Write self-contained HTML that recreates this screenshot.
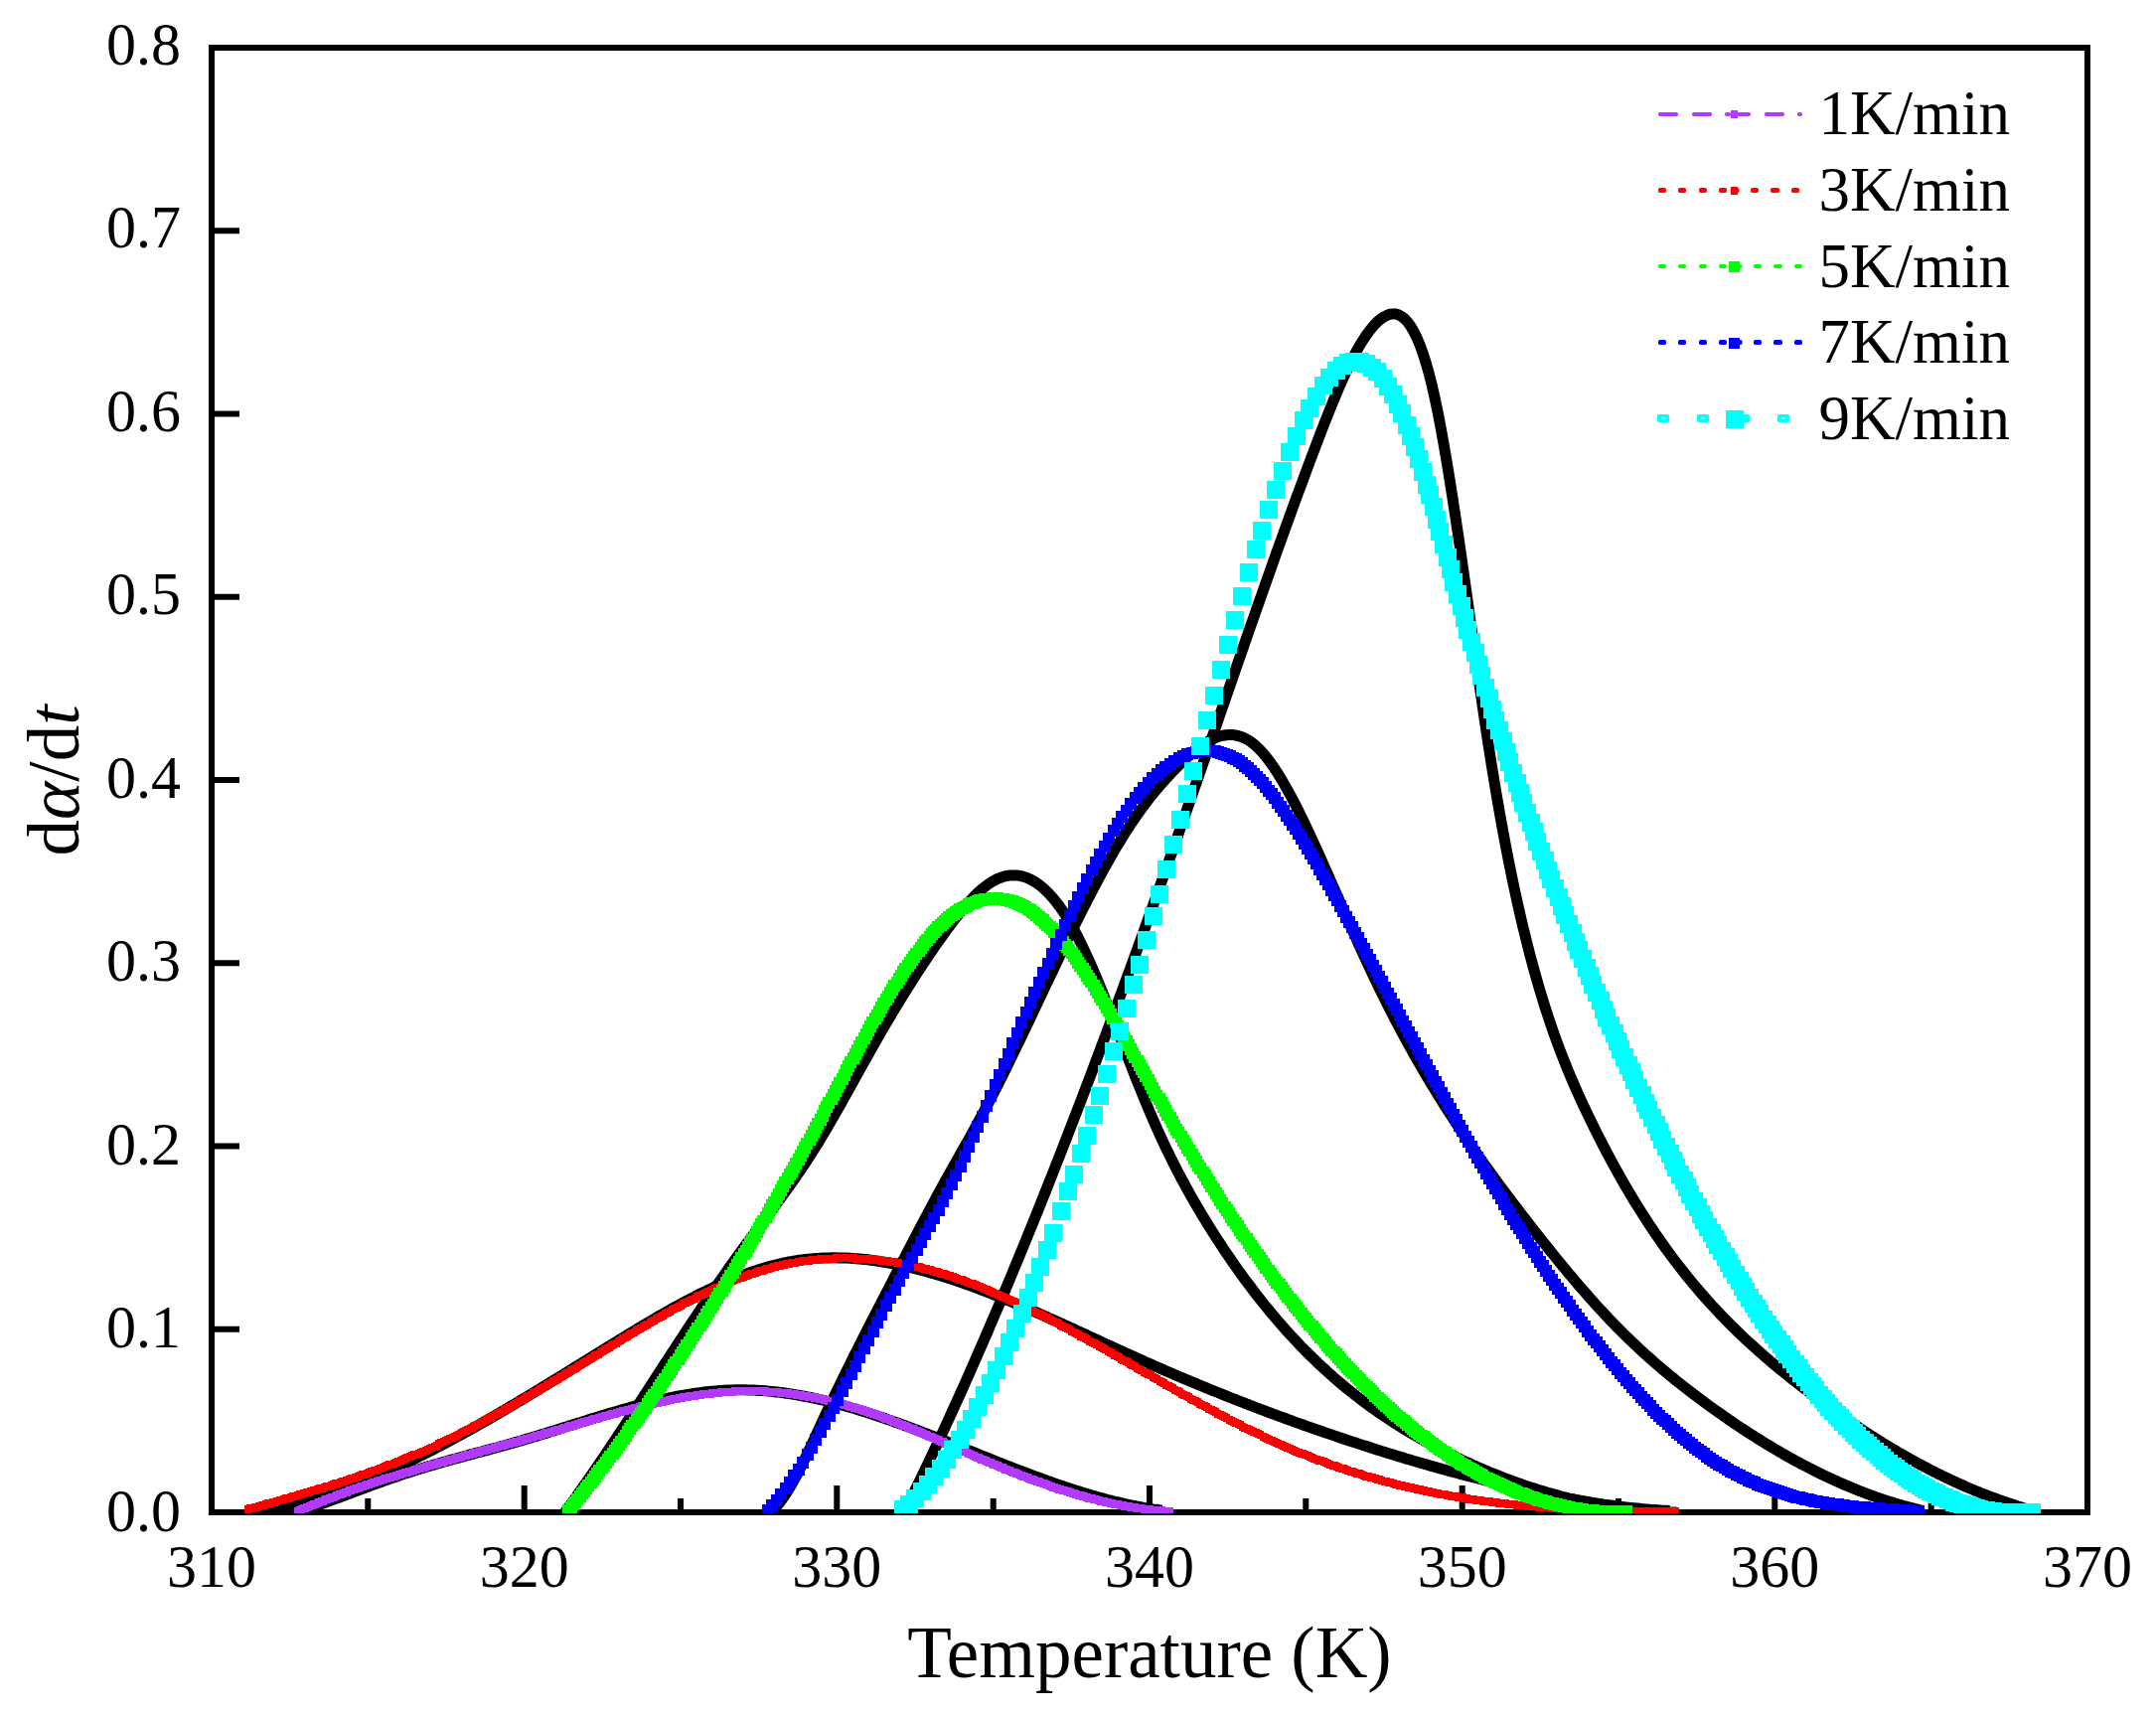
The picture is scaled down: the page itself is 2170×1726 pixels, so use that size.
<!DOCTYPE html>
<html><head><meta charset="utf-8"><title>da/dt vs Temperature</title>
<style>html,body{margin:0;padding:0;background:#fff}svg{display:block}</style></head>
<body>
<svg width="2170" height="1726" viewBox="0 0 2170 1726">
<rect width="2170" height="1726" fill="#fff"/>
<defs><clipPath id="cp"><rect x="213" y="48" width="1888" height="1475"/></clipPath></defs>
<rect x="213" y="48" width="1888" height="1474" fill="none" stroke="#000" stroke-width="6"/>
<path d="M527.7,1522v-27M842.3,1522v-27M1157.0,1522v-27M1471.7,1522v-27M1786.3,1522v-27M370.3,1522v-14M685.0,1522v-14M999.7,1522v-14M1314.3,1522v-14M1629.0,1522v-14M1943.7,1522v-14M213,1337.8h28M213,1153.5h28M213,969.2h28M213,785.0h28M213,600.8h28M213,416.5h28M213,232.2h28" stroke="#000" stroke-width="6" fill="none"/>
<g clip-path="url(#cp)">
<path d="M299.5,1522.0 L302.5,1521.0 L305.5,1520.0 L308.5,1518.9 L311.5,1517.9 L314.5,1516.8 L317.5,1515.8 L320.5,1514.7 L323.5,1513.6 L326.5,1512.5 L329.5,1511.4 L332.5,1510.3 L335.5,1509.2 L338.5,1508.1 L341.5,1507.0 L344.5,1505.9 L347.5,1504.8 L350.5,1503.6 L353.5,1502.5 L356.5,1501.4 L359.5,1500.3 L362.5,1499.2 L365.5,1498.1 L368.5,1496.9 L371.5,1495.8 L374.5,1494.7 L377.5,1493.6 L380.5,1492.5 L383.5,1491.5 L386.5,1490.4 L389.5,1489.3 L392.5,1488.3 L395.5,1487.2 L398.5,1486.2 L401.5,1485.2 L404.5,1484.1 L407.5,1483.1 L410.5,1482.2 L413.5,1481.2 L416.5,1480.2 L419.5,1479.3 L422.5,1478.4 L425.5,1477.4 L428.5,1476.5 L431.5,1475.6 L434.5,1474.8 L437.5,1473.9 L440.5,1473.0 L443.5,1472.2 L446.5,1471.3 L449.5,1470.5 L452.5,1469.6 L455.5,1468.8 L458.5,1468.0 L461.5,1467.2 L464.5,1466.4 L467.5,1465.5 L470.5,1464.7 L473.5,1463.9 L476.5,1463.1 L479.5,1462.3 L482.5,1461.5 L485.5,1460.7 L488.5,1459.9 L491.5,1459.1 L494.5,1458.3 L497.5,1457.5 L500.5,1456.7 L503.5,1455.8 L506.5,1455.0 L509.5,1454.2 L512.5,1453.3 L515.5,1452.5 L518.5,1451.6 L521.5,1450.8 L524.5,1449.9 L527.5,1449.0 L530.5,1448.1 L533.5,1447.2 L536.5,1446.3 L539.5,1445.4 L542.5,1444.5 L545.5,1443.6 L548.5,1442.7 L551.5,1441.7 L554.5,1440.8 L557.5,1439.9 L560.5,1438.9 L563.5,1438.0 L566.5,1437.0 L569.5,1436.1 L572.5,1435.1 L575.5,1434.2 L578.5,1433.2 L581.5,1432.3 L584.5,1431.4 L587.5,1430.4 L590.5,1429.5 L593.5,1428.5 L596.5,1427.6 L599.5,1426.7 L602.5,1425.8 L605.5,1424.8 L608.5,1423.9 L611.5,1423.0 L614.5,1422.1 L617.5,1421.3 L620.5,1420.4 L623.5,1419.5 L626.5,1418.6 L629.5,1417.8 L632.5,1417.0 L635.5,1416.1 L638.5,1415.3 L641.5,1414.5 L644.5,1413.7 L647.5,1412.9 L650.5,1412.2 L653.5,1411.4 L656.5,1410.7 L659.5,1410.0 L662.5,1409.3 L665.5,1408.6 L668.5,1408.0 L671.5,1407.3 L674.5,1406.7 L677.5,1406.1 L680.5,1405.5 L683.5,1404.9 L686.5,1404.4 L689.5,1403.9 L692.5,1403.3 L695.5,1402.9 L698.5,1402.4 L701.5,1402.0 L704.5,1401.6 L707.5,1401.2 L710.5,1400.8 L713.5,1400.5 L716.5,1400.2 L719.5,1399.9 L722.5,1399.7 L725.5,1399.5 L728.5,1399.3 L731.5,1399.1 L734.5,1399.0 L737.5,1398.9 L740.5,1398.8 L743.5,1398.8 L746.5,1398.8 L749.5,1398.8 L752.5,1398.9 L755.5,1399.0 L758.5,1399.1 L761.5,1399.2 L764.5,1399.4 L767.5,1399.6 L770.5,1399.8 L773.5,1400.1 L776.5,1400.4 L779.5,1400.7 L782.5,1401.0 L785.5,1401.4 L788.5,1401.8 L791.5,1402.2 L794.5,1402.6 L797.5,1403.1 L800.5,1403.6 L803.5,1404.1 L806.5,1404.7 L809.5,1405.2 L812.5,1405.8 L815.5,1406.4 L818.5,1407.0 L821.5,1407.7 L824.5,1408.3 L827.5,1409.0 L830.5,1409.7 L833.5,1410.5 L836.5,1411.2 L839.5,1412.0 L842.5,1412.8 L845.5,1413.6 L848.5,1414.4 L851.5,1415.2 L854.5,1416.1 L857.5,1417.0 L860.5,1417.8 L863.5,1418.8 L866.5,1419.7 L869.5,1420.6 L872.5,1421.5 L875.5,1422.5 L878.5,1423.5 L881.5,1424.5 L884.5,1425.5 L887.5,1426.5 L890.5,1427.5 L893.5,1428.6 L896.5,1429.6 L899.5,1430.7 L902.5,1431.7 L905.5,1432.8 L908.5,1433.9 L911.5,1435.0 L914.5,1436.1 L917.5,1437.2 L920.5,1438.4 L923.5,1439.5 L926.5,1440.6 L929.5,1441.8 L932.5,1442.9 L935.5,1444.1 L938.5,1445.2 L941.5,1446.4 L944.5,1447.6 L947.5,1448.8 L950.5,1449.9 L953.5,1451.1 L956.5,1452.3 L959.5,1453.5 L962.5,1454.7 L965.5,1455.9 L968.5,1457.1 L971.5,1458.3 L974.5,1459.5 L977.5,1460.7 L980.5,1461.9 L983.5,1463.1 L986.5,1464.3 L989.5,1465.5 L992.5,1466.7 L995.5,1467.9 L998.5,1469.1 L1001.5,1470.3 L1004.5,1471.5 L1007.5,1472.7 L1010.5,1473.8 L1013.5,1475.0 L1016.5,1476.2 L1019.5,1477.3 L1022.5,1478.5 L1025.5,1479.7 L1028.5,1480.8 L1031.5,1481.9 L1034.5,1483.1 L1037.5,1484.2 L1040.5,1485.3 L1043.5,1486.4 L1046.5,1487.5 L1049.5,1488.6 L1052.5,1489.7 L1055.5,1490.8 L1058.5,1491.8 L1061.5,1492.9 L1064.5,1493.9 L1067.5,1494.9 L1070.5,1496.0 L1073.5,1497.0 L1076.5,1498.0 L1079.5,1498.9 L1082.5,1499.9 L1085.5,1500.8 L1088.5,1501.8 L1091.5,1502.7 L1094.5,1503.6 L1097.5,1504.5 L1100.5,1505.4 L1103.5,1506.2 L1106.5,1507.1 L1109.5,1507.9 L1112.5,1508.7 L1115.5,1509.5 L1118.5,1510.2 L1121.5,1511.0 L1124.5,1511.7 L1127.5,1512.4 L1130.5,1513.1 L1133.5,1513.8 L1136.5,1514.5 L1139.5,1515.1 L1142.5,1515.7 L1145.5,1516.3 L1148.5,1516.8 L1151.5,1517.4 L1154.5,1517.9 L1157.5,1518.4 L1160.5,1518.9 L1163.5,1519.3 L1166.5,1519.7 L1169.5,1520.1" fill="none" stroke="#000" stroke-width="11" stroke-linejoin="round"/>
<path d="M249.5,1522.0 L252.5,1521.6 L255.5,1521.2 L258.5,1520.8 L261.5,1520.4 L264.5,1519.9 L267.5,1519.4 L270.5,1518.9 L273.5,1518.4 L276.5,1517.8 L279.5,1517.2 L282.5,1516.6 L285.5,1516.0 L288.5,1515.3 L291.5,1514.6 L294.5,1513.9 L297.5,1513.2 L300.5,1512.5 L303.5,1511.7 L306.5,1510.9 L309.5,1510.1 L312.5,1509.2 L315.5,1508.4 L318.5,1507.5 L321.5,1506.6 L324.5,1505.7 L327.5,1504.7 L330.5,1503.8 L333.5,1502.8 L336.5,1501.8 L339.5,1500.8 L342.5,1499.7 L345.5,1498.7 L348.5,1497.6 L351.5,1496.5 L354.5,1495.4 L357.5,1494.2 L360.5,1493.1 L363.5,1491.9 L366.5,1490.7 L369.5,1489.5 L372.5,1488.3 L375.5,1487.0 L378.5,1485.8 L381.5,1484.5 L384.5,1483.2 L387.5,1481.9 L390.5,1480.6 L393.5,1479.2 L396.5,1477.9 L399.5,1476.5 L402.5,1475.1 L405.5,1473.7 L408.5,1472.3 L411.5,1470.9 L414.5,1469.5 L417.5,1468.0 L420.5,1466.5 L423.5,1465.1 L426.5,1463.6 L429.5,1462.1 L432.5,1460.5 L435.5,1459.0 L438.5,1457.5 L441.5,1455.9 L444.5,1454.3 L447.5,1452.8 L450.5,1451.2 L453.5,1449.6 L456.5,1448.0 L459.5,1446.3 L462.5,1444.7 L465.5,1443.1 L468.5,1441.4 L471.5,1439.8 L474.5,1438.1 L477.5,1436.4 L480.5,1434.7 L483.5,1433.0 L486.5,1431.3 L489.5,1429.6 L492.5,1427.9 L495.5,1426.2 L498.5,1424.4 L501.5,1422.7 L504.5,1420.9 L507.5,1419.2 L510.5,1417.4 L513.5,1415.6 L516.5,1413.9 L519.5,1412.1 L522.5,1410.3 L525.5,1408.5 L528.5,1406.7 L531.5,1404.9 L534.5,1403.1 L537.5,1401.3 L540.5,1399.4 L543.5,1397.6 L546.5,1395.8 L549.5,1394.0 L552.5,1392.1 L555.5,1390.3 L558.5,1388.5 L561.5,1386.6 L564.5,1384.8 L567.5,1382.9 L570.5,1381.1 L573.5,1379.2 L576.5,1377.4 L579.5,1375.5 L582.5,1373.7 L585.5,1371.8 L588.5,1370.0 L591.5,1368.1 L594.5,1366.2 L597.5,1364.4 L600.5,1362.5 L603.5,1360.7 L606.5,1358.8 L609.5,1357.0 L612.5,1355.1 L615.5,1353.3 L618.5,1351.4 L621.5,1349.6 L624.5,1347.7 L627.5,1345.9 L630.5,1344.1 L633.5,1342.2 L636.5,1340.4 L639.5,1338.6 L642.5,1336.8 L645.5,1335.0 L648.5,1333.2 L651.5,1331.4 L654.5,1329.7 L657.5,1327.9 L660.5,1326.1 L663.5,1324.4 L666.5,1322.7 L669.5,1321.0 L672.5,1319.3 L675.5,1317.6 L678.5,1315.9 L681.5,1314.3 L684.5,1312.7 L687.5,1311.0 L690.5,1309.4 L693.5,1307.9 L696.5,1306.3 L699.5,1304.8 L702.5,1303.2 L705.5,1301.7 L708.5,1300.3 L711.5,1298.8 L714.5,1297.4 L717.5,1296.0 L720.5,1294.6 L723.5,1293.2 L726.5,1291.9 L729.5,1290.6 L732.5,1289.3 L735.5,1288.1 L738.5,1286.8 L741.5,1285.6 L744.5,1284.5 L747.5,1283.3 L750.5,1282.2 L753.5,1281.2 L756.5,1280.1 L759.5,1279.1 L762.5,1278.1 L765.5,1277.2 L768.5,1276.3 L771.5,1275.4 L774.5,1274.6 L777.5,1273.8 L780.5,1273.0 L783.5,1272.3 L786.5,1271.6 L789.5,1270.9 L792.5,1270.3 L795.5,1269.8 L798.5,1269.2 L801.5,1268.8 L804.5,1268.3 L807.5,1267.9 L810.5,1267.5 L813.5,1267.2 L816.5,1266.9 L819.5,1266.6 L822.5,1266.4 L825.5,1266.2 L828.5,1266.1 L831.5,1266.0 L834.5,1265.9 L837.5,1265.8 L840.5,1265.8 L843.5,1265.9 L846.5,1265.9 L849.5,1266.0 L852.5,1266.1 L855.5,1266.3 L858.5,1266.5 L861.5,1266.7 L864.5,1266.9 L867.5,1267.2 L870.5,1267.5 L873.5,1267.8 L876.5,1268.2 L879.5,1268.6 L882.5,1269.0 L885.5,1269.5 L888.5,1270.0 L891.5,1270.5 L894.5,1271.0 L897.5,1271.5 L900.5,1272.1 L903.5,1272.7 L906.5,1273.4 L909.5,1274.0 L912.5,1274.7 L915.5,1275.4 L918.5,1276.1 L921.5,1276.8 L924.5,1277.6 L927.5,1278.4 L930.5,1279.2 L933.5,1280.0 L936.5,1280.9 L939.5,1281.8 L942.5,1282.6 L945.5,1283.6 L948.5,1284.5 L951.5,1285.4 L954.5,1286.4 L957.5,1287.4 L960.5,1288.4 L963.5,1289.4 L966.5,1290.4 L969.5,1291.4 L972.5,1292.5 L975.5,1293.6 L978.5,1294.6 L981.5,1295.7 L984.5,1296.9 L987.5,1298.0 L990.5,1299.1 L993.5,1300.3 L996.5,1301.4 L999.5,1302.6 L1002.5,1303.8 L1005.5,1305.0 L1008.5,1306.2 L1011.5,1307.4 L1014.5,1308.7 L1017.5,1309.9 L1020.5,1311.1 L1023.5,1312.4 L1026.5,1313.7 L1029.5,1314.9 L1032.5,1316.2 L1035.5,1317.5 L1038.5,1318.8 L1041.5,1320.1 L1044.5,1321.4 L1047.5,1322.7 L1050.5,1324.1 L1053.5,1325.4 L1056.5,1326.7 L1059.5,1328.1 L1062.5,1329.4 L1065.5,1330.8 L1068.5,1332.1 L1071.5,1333.5 L1074.5,1334.9 L1077.5,1336.2 L1080.5,1337.6 L1083.5,1339.0 L1086.5,1340.3 L1089.5,1341.7 L1092.5,1343.1 L1095.5,1344.5 L1098.5,1345.9 L1101.5,1347.2 L1104.5,1348.6 L1107.5,1350.0 L1110.5,1351.4 L1113.5,1352.8 L1116.5,1354.1 L1119.5,1355.5 L1122.5,1356.9 L1125.5,1358.3 L1128.5,1359.6 L1131.5,1361.0 L1134.5,1362.4 L1137.5,1363.7 L1140.5,1365.1 L1143.5,1366.4 L1146.5,1367.8 L1149.5,1369.1 L1152.5,1370.5 L1155.5,1371.8 L1158.5,1373.1 L1161.5,1374.5 L1164.5,1375.8 L1167.5,1377.1 L1170.5,1378.4 L1173.5,1379.7 L1176.5,1381.0 L1179.5,1382.3 L1182.5,1383.6 L1185.5,1384.9 L1188.5,1386.1 L1191.5,1387.4 L1194.5,1388.7 L1197.5,1389.9 L1200.5,1391.2 L1203.5,1392.4 L1206.5,1393.7 L1209.5,1394.9 L1212.5,1396.1 L1215.5,1397.4 L1218.5,1398.6 L1221.5,1399.8 L1224.5,1401.0 L1227.5,1402.2 L1230.5,1403.4 L1233.5,1404.6 L1236.5,1405.8 L1239.5,1407.0 L1242.5,1408.2 L1245.5,1409.4 L1248.5,1410.5 L1251.5,1411.7 L1254.5,1412.9 L1257.5,1414.0 L1260.5,1415.2 L1263.5,1416.3 L1266.5,1417.5 L1269.5,1418.6 L1272.5,1419.7 L1275.5,1420.9 L1278.5,1422.0 L1281.5,1423.1 L1284.5,1424.2 L1287.5,1425.3 L1290.5,1426.4 L1293.5,1427.5 L1296.5,1428.6 L1299.5,1429.7 L1302.5,1430.8 L1305.5,1431.9 L1308.5,1432.9 L1311.5,1434.0 L1314.5,1435.1 L1317.5,1436.1 L1320.5,1437.2 L1323.5,1438.2 L1326.5,1439.3 L1329.5,1440.3 L1332.5,1441.3 L1335.5,1442.4 L1338.5,1443.4 L1341.5,1444.4 L1344.5,1445.4 L1347.5,1446.5 L1350.5,1447.5 L1353.5,1448.5 L1356.5,1449.5 L1359.5,1450.5 L1362.5,1451.4 L1365.5,1452.4 L1368.5,1453.4 L1371.5,1454.4 L1374.5,1455.3 L1377.5,1456.3 L1380.5,1457.3 L1383.5,1458.2 L1386.5,1459.2 L1389.5,1460.1 L1392.5,1461.1 L1395.5,1462.0 L1398.5,1462.9 L1401.5,1463.8 L1404.5,1464.8 L1407.5,1465.7 L1410.5,1466.6 L1413.5,1467.5 L1416.5,1468.4 L1419.5,1469.3 L1422.5,1470.2 L1425.5,1471.0 L1428.5,1471.9 L1431.5,1472.8 L1434.5,1473.6 L1437.5,1474.5 L1440.5,1475.4 L1443.5,1476.2 L1446.5,1477.1 L1449.5,1477.9 L1452.5,1478.7 L1455.5,1479.6 L1458.5,1480.4 L1461.5,1481.2 L1464.5,1482.0 L1467.5,1482.8 L1470.5,1483.6 L1473.5,1484.4 L1476.5,1485.2 L1479.5,1486.0 L1482.5,1486.7 L1485.5,1487.5 L1488.5,1488.3 L1491.5,1489.0 L1494.5,1489.8 L1497.5,1490.5 L1500.5,1491.3 L1503.5,1492.0 L1506.5,1492.8 L1509.5,1493.5 L1512.5,1494.2 L1515.5,1494.9 L1518.5,1495.6 L1521.5,1496.3 L1524.5,1497.0 L1527.5,1497.7 L1530.5,1498.4 L1533.5,1499.1 L1536.5,1499.7 L1539.5,1500.4 L1542.5,1501.0 L1545.5,1501.7 L1548.5,1502.3 L1551.5,1502.9 L1554.5,1503.6 L1557.5,1504.2 L1560.5,1504.8 L1563.5,1505.4 L1566.5,1506.0 L1569.5,1506.5 L1572.5,1507.1 L1575.5,1507.7 L1578.5,1508.2 L1581.5,1508.8 L1584.5,1509.3 L1587.5,1509.8 L1590.5,1510.3 L1593.5,1510.8 L1596.5,1511.3 L1599.5,1511.8 L1602.5,1512.3 L1605.5,1512.7 L1608.5,1513.2 L1611.5,1513.6 L1614.5,1514.1 L1617.5,1514.5 L1620.5,1514.9 L1623.5,1515.3 L1626.5,1515.7 L1629.5,1516.0 L1632.5,1516.4 L1635.5,1516.8 L1638.5,1517.1 L1641.5,1517.4 L1644.5,1517.7 L1647.5,1518.0 L1650.5,1518.3 L1653.5,1518.6 L1656.5,1518.9 L1659.5,1519.1 L1662.5,1519.4 L1665.5,1519.6 L1668.5,1519.8 L1671.5,1520.0 L1674.5,1520.2 L1677.5,1520.3 L1680.5,1520.5" fill="none" stroke="#000" stroke-width="11" stroke-linejoin="round"/>
<path d="M568.5,1522.0 L571.5,1517.9 L574.5,1513.8 L577.5,1509.6 L580.5,1505.5 L583.5,1501.2 L586.5,1497.0 L589.5,1492.7 L592.5,1488.4 L595.5,1484.1 L598.5,1479.7 L601.5,1475.3 L604.5,1470.9 L607.5,1466.5 L610.5,1462.0 L613.5,1457.6 L616.5,1453.1 L619.5,1448.6 L622.5,1444.0 L625.5,1439.5 L628.5,1435.0 L631.5,1430.4 L634.5,1425.8 L637.5,1421.2 L640.5,1416.6 L643.5,1412.0 L646.5,1407.4 L649.5,1402.8 L652.5,1398.2 L655.5,1393.6 L658.5,1388.9 L661.5,1384.3 L664.5,1379.7 L667.5,1375.1 L670.5,1370.5 L673.5,1365.9 L676.5,1361.3 L679.5,1356.7 L682.5,1352.1 L685.5,1347.5 L688.5,1342.9 L691.5,1338.4 L694.5,1333.8 L697.5,1329.3 L700.5,1324.8 L703.5,1320.3 L706.5,1315.8 L709.5,1311.3 L712.5,1306.9 L715.5,1302.5 L718.5,1298.1 L721.5,1293.7 L724.5,1289.4 L727.5,1285.1 L730.5,1280.8 L733.5,1276.5 L736.5,1272.3 L739.5,1268.1 L742.5,1263.9 L745.5,1259.8 L748.5,1255.7 L751.5,1251.6 L754.5,1247.6 L757.5,1243.6 L760.5,1239.6 L763.5,1235.6 L766.5,1231.6 L769.5,1227.6 L772.5,1223.6 L775.5,1219.6 L778.5,1215.6 L781.5,1211.5 L784.5,1207.4 L787.5,1203.3 L790.5,1199.2 L793.5,1195.0 L796.5,1190.8 L799.5,1186.5 L802.5,1182.2 L805.5,1177.8 L808.5,1173.4 L811.5,1168.9 L814.5,1164.3 L817.5,1159.6 L820.5,1154.8 L823.5,1150.0 L826.5,1145.0 L829.5,1140.0 L832.5,1134.9 L835.5,1129.8 L838.5,1124.6 L841.5,1119.3 L844.5,1114.0 L847.5,1108.7 L850.5,1103.3 L853.5,1097.9 L856.5,1092.5 L859.5,1087.1 L862.5,1081.7 L865.5,1076.3 L868.5,1070.9 L871.5,1065.5 L874.5,1060.2 L877.5,1054.9 L880.5,1049.6 L883.5,1044.3 L886.5,1039.1 L889.5,1034.0 L892.5,1028.8 L895.5,1023.8 L898.5,1018.7 L901.5,1013.7 L904.5,1008.8 L907.5,1003.9 L910.5,999.1 L913.5,994.3 L916.5,989.5 L919.5,984.8 L922.5,980.1 L925.5,975.5 L928.5,971.0 L931.5,966.4 L934.5,962.0 L937.5,957.6 L940.5,953.2 L943.5,948.9 L946.5,944.7 L949.5,940.5 L952.5,936.3 L955.5,932.2 L958.5,928.2 L961.5,924.3 L964.5,920.5 L967.5,916.8 L970.5,913.2 L973.5,909.7 L976.5,906.4 L979.5,903.2 L982.5,900.2 L985.5,897.3 L988.5,894.7 L991.5,892.3 L994.5,890.0 L997.5,888.0 L1000.5,886.3 L1003.5,884.7 L1006.5,883.5 L1009.5,882.4 L1012.5,881.7 L1015.5,881.1 L1018.5,880.9 L1021.5,880.9 L1024.5,881.1 L1027.5,881.6 L1030.5,882.4 L1033.5,883.4 L1036.5,884.7 L1039.5,886.3 L1042.5,888.1 L1045.5,890.2 L1048.5,892.5 L1051.5,895.2 L1054.5,898.1 L1057.5,901.3 L1060.5,904.7 L1063.5,908.4 L1066.5,912.4 L1069.5,916.7 L1072.5,921.3 L1075.5,926.1 L1078.5,931.3 L1081.5,936.7 L1084.5,942.4 L1087.5,948.4 L1090.5,954.6 L1093.5,961.0 L1096.5,967.6 L1099.5,974.5 L1102.5,981.5 L1105.5,988.6 L1108.5,995.9 L1111.5,1003.3 L1114.5,1010.9 L1117.5,1018.5 L1120.5,1026.1 L1123.5,1033.9 L1126.5,1041.6 L1129.5,1049.4 L1132.5,1057.2 L1135.5,1065.0 L1138.5,1072.7 L1141.5,1080.4 L1144.5,1088.0 L1147.5,1095.5 L1150.5,1102.9 L1153.5,1110.2 L1156.5,1117.4 L1159.5,1124.4 L1162.5,1131.3 L1165.5,1138.0 L1168.5,1144.6 L1171.5,1151.0 L1174.5,1157.3 L1177.5,1163.4 L1180.5,1169.5 L1183.5,1175.4 L1186.5,1181.2 L1189.5,1186.9 L1192.5,1192.4 L1195.5,1197.9 L1198.5,1203.3 L1201.5,1208.5 L1204.5,1213.7 L1207.5,1218.8 L1210.5,1223.8 L1213.5,1228.7 L1216.5,1233.6 L1219.5,1238.4 L1222.5,1243.1 L1225.5,1247.7 L1228.5,1252.3 L1231.5,1256.9 L1234.5,1261.3 L1237.5,1265.7 L1240.5,1270.1 L1243.5,1274.4 L1246.5,1278.6 L1249.5,1282.8 L1252.5,1286.9 L1255.5,1290.9 L1258.5,1294.9 L1261.5,1298.9 L1264.5,1302.8 L1267.5,1306.6 L1270.5,1310.4 L1273.5,1314.1 L1276.5,1317.8 L1279.5,1321.4 L1282.5,1325.0 L1285.5,1328.5 L1288.5,1332.0 L1291.5,1335.4 L1294.5,1338.8 L1297.5,1342.1 L1300.5,1345.4 L1303.5,1348.6 L1306.5,1351.7 L1309.5,1354.9 L1312.5,1358.0 L1315.5,1361.0 L1318.5,1364.0 L1321.5,1366.9 L1324.5,1369.8 L1327.5,1372.7 L1330.5,1375.5 L1333.5,1378.2 L1336.5,1381.0 L1339.5,1383.7 L1342.5,1386.3 L1345.5,1388.9 L1348.5,1391.5 L1351.5,1394.0 L1354.5,1396.5 L1357.5,1398.9 L1360.5,1401.3 L1363.5,1403.7 L1366.5,1406.0 L1369.5,1408.3 L1372.5,1410.6 L1375.5,1412.8 L1378.5,1415.0 L1381.5,1417.2 L1384.5,1419.3 L1387.5,1421.4 L1390.5,1423.5 L1393.5,1425.5 L1396.5,1427.5 L1399.5,1429.5 L1402.5,1431.5 L1405.5,1433.4 L1408.5,1435.3 L1411.5,1437.1 L1414.5,1439.0 L1417.5,1440.8 L1420.5,1442.5 L1423.5,1444.3 L1426.5,1446.0 L1429.5,1447.7 L1432.5,1449.4 L1435.5,1451.1 L1438.5,1452.7 L1441.5,1454.3 L1444.5,1455.9 L1447.5,1457.5 L1450.5,1459.0 L1453.5,1460.6 L1456.5,1462.1 L1459.5,1463.6 L1462.5,1465.0 L1465.5,1466.5 L1468.5,1467.9 L1471.5,1469.4 L1474.5,1470.8 L1477.5,1472.1 L1480.5,1473.5 L1483.5,1474.9 L1486.5,1476.2 L1489.5,1477.5 L1492.5,1478.8 L1495.5,1480.0 L1498.5,1481.3 L1501.5,1482.5 L1504.5,1483.7 L1507.5,1484.9 L1510.5,1486.1 L1513.5,1487.3 L1516.5,1488.4 L1519.5,1489.5 L1522.5,1490.6 L1525.5,1491.7 L1528.5,1492.8 L1531.5,1493.8 L1534.5,1494.9 L1537.5,1495.9 L1540.5,1496.9 L1543.5,1497.8 L1546.5,1498.8 L1549.5,1499.7 L1552.5,1500.6 L1555.5,1501.5 L1558.5,1502.4 L1561.5,1503.2 L1564.5,1504.1 L1567.5,1504.9 L1570.5,1505.7 L1573.5,1506.5 L1576.5,1507.2 L1579.5,1508.0 L1582.5,1508.7 L1585.5,1509.4 L1588.5,1510.1 L1591.5,1510.8 L1594.5,1511.4 L1597.5,1512.0 L1600.5,1512.7 L1603.5,1513.2 L1606.5,1513.8 L1609.5,1514.4 L1612.5,1514.9 L1615.5,1515.4 L1618.5,1515.9 L1621.5,1516.4 L1624.5,1516.8 L1627.5,1517.3 L1630.5,1517.7 L1633.5,1518.1 L1636.5,1518.5 L1639.5,1518.8 L1642.5,1519.2 L1645.5,1519.5 L1648.5,1519.8 L1651.5,1520.1 L1654.5,1520.3 L1657.5,1520.6 L1660.5,1520.8 L1663.5,1521.0 L1666.5,1521.2 L1669.5,1521.4 L1672.5,1521.5 L1675.5,1521.7 L1678.5,1521.8 L1681.5,1521.9 L1684.5,1521.9 L1687.5,1522.0" fill="none" stroke="#000" stroke-width="11" stroke-linejoin="round"/>
<path d="M775.0,1522.0 L778.0,1519.5 L781.0,1516.5 L784.0,1513.1 L787.0,1509.2 L790.0,1504.9 L793.0,1500.2 L796.0,1495.2 L799.0,1489.9 L802.0,1484.4 L805.0,1478.6 L808.0,1472.6 L811.0,1466.4 L814.0,1460.1 L817.0,1453.8 L820.0,1447.3 L823.0,1440.8 L826.0,1434.3 L829.0,1427.8 L832.0,1421.4 L835.0,1415.0 L838.0,1408.7 L841.0,1402.5 L844.0,1396.3 L847.0,1390.1 L850.0,1384.0 L853.0,1377.9 L856.0,1371.9 L859.0,1365.8 L862.0,1359.9 L865.0,1353.9 L868.0,1348.0 L871.0,1342.1 L874.0,1336.2 L877.0,1330.4 L880.0,1324.5 L883.0,1318.7 L886.0,1312.9 L889.0,1307.1 L892.0,1301.3 L895.0,1295.5 L898.0,1289.7 L901.0,1283.9 L904.0,1278.1 L907.0,1272.3 L910.0,1266.5 L913.0,1260.7 L916.0,1255.0 L919.0,1249.2 L922.0,1243.5 L925.0,1237.7 L928.0,1232.0 L931.0,1226.4 L934.0,1220.7 L937.0,1215.1 L940.0,1209.5 L943.0,1203.9 L946.0,1198.4 L949.0,1193.0 L952.0,1187.5 L955.0,1182.1 L958.0,1176.8 L961.0,1171.4 L964.0,1166.1 L967.0,1160.8 L970.0,1155.5 L973.0,1150.2 L976.0,1144.8 L979.0,1139.4 L982.0,1134.0 L985.0,1128.5 L988.0,1123.0 L991.0,1117.4 L994.0,1111.7 L997.0,1106.0 L1000.0,1100.2 L1003.0,1094.3 L1006.0,1088.3 L1009.0,1082.4 L1012.0,1076.3 L1015.0,1070.2 L1018.0,1064.1 L1021.0,1057.9 L1024.0,1051.7 L1027.0,1045.5 L1030.0,1039.2 L1033.0,1033.0 L1036.0,1026.7 L1039.0,1020.3 L1042.0,1014.0 L1045.0,1007.7 L1048.0,1001.4 L1051.0,995.0 L1054.0,988.7 L1057.0,982.4 L1060.0,976.1 L1063.0,969.8 L1066.0,963.5 L1069.0,957.3 L1072.0,951.1 L1075.0,944.9 L1078.0,938.7 L1081.0,932.6 L1084.0,926.6 L1087.0,920.6 L1090.0,914.6 L1093.0,908.7 L1096.0,902.9 L1099.0,897.1 L1102.0,891.4 L1105.0,885.7 L1108.0,880.2 L1111.0,874.7 L1114.0,869.3 L1117.0,864.0 L1120.0,858.8 L1123.0,853.6 L1126.0,848.6 L1129.0,843.7 L1132.0,838.9 L1135.0,834.2 L1138.0,829.6 L1141.0,825.1 L1144.0,820.8 L1147.0,816.5 L1150.0,812.4 L1153.0,808.4 L1156.0,804.5 L1159.0,800.7 L1162.0,797.1 L1165.0,793.5 L1168.0,790.0 L1171.0,786.6 L1174.0,783.2 L1177.0,780.0 L1180.0,776.8 L1183.0,773.7 L1186.0,770.6 L1189.0,767.7 L1192.0,764.8 L1195.0,762.0 L1198.0,759.3 L1201.0,756.7 L1204.0,754.3 L1207.0,752.0 L1210.0,749.8 L1213.0,747.9 L1216.0,746.1 L1219.0,744.5 L1222.0,743.1 L1225.0,741.9 L1228.0,740.9 L1231.0,740.2 L1234.0,739.7 L1237.0,739.5 L1240.0,739.5 L1243.0,739.9 L1246.0,740.5 L1249.0,741.4 L1252.0,742.6 L1255.0,744.1 L1258.0,745.9 L1261.0,748.1 L1264.0,750.7 L1267.0,753.5 L1270.0,756.7 L1273.0,760.1 L1276.0,763.9 L1279.0,767.9 L1282.0,772.2 L1285.0,776.7 L1288.0,781.5 L1291.0,786.5 L1294.0,791.7 L1297.0,797.1 L1300.0,802.7 L1303.0,808.4 L1306.0,814.3 L1309.0,820.4 L1312.0,826.5 L1315.0,832.8 L1318.0,839.2 L1321.0,845.7 L1324.0,852.3 L1327.0,858.9 L1330.0,865.6 L1333.0,872.4 L1336.0,879.1 L1339.0,885.9 L1342.0,892.7 L1345.0,899.5 L1348.0,906.3 L1351.0,913.1 L1354.0,919.9 L1357.0,926.6 L1360.0,933.4 L1363.0,940.1 L1366.0,946.8 L1369.0,953.4 L1372.0,959.9 L1375.0,966.5 L1378.0,972.9 L1381.0,979.3 L1384.0,985.6 L1387.0,991.9 L1390.0,998.0 L1393.0,1004.1 L1396.0,1010.1 L1399.0,1016.0 L1402.0,1021.8 L1405.0,1027.6 L1408.0,1033.3 L1411.0,1038.9 L1414.0,1044.5 L1417.0,1050.0 L1420.0,1055.4 L1423.0,1060.8 L1426.0,1066.1 L1429.0,1071.3 L1432.0,1076.4 L1435.0,1081.6 L1438.0,1086.6 L1441.0,1091.6 L1444.0,1096.5 L1447.0,1101.4 L1450.0,1106.2 L1453.0,1111.0 L1456.0,1115.7 L1459.0,1120.4 L1462.0,1125.0 L1465.0,1129.6 L1468.0,1134.1 L1471.0,1138.6 L1474.0,1143.1 L1477.0,1147.5 L1480.0,1151.9 L1483.0,1156.2 L1486.0,1160.5 L1489.0,1164.8 L1492.0,1169.0 L1495.0,1173.2 L1498.0,1177.3 L1501.0,1181.5 L1504.0,1185.6 L1507.0,1189.7 L1510.0,1193.7 L1513.0,1197.7 L1516.0,1201.7 L1519.0,1205.7 L1522.0,1209.7 L1525.0,1213.6 L1528.0,1217.6 L1531.0,1221.5 L1534.0,1225.4 L1537.0,1229.3 L1540.0,1233.1 L1543.0,1237.0 L1546.0,1240.8 L1549.0,1244.7 L1552.0,1248.5 L1555.0,1252.2 L1558.0,1256.0 L1561.0,1259.7 L1564.0,1263.4 L1567.0,1267.1 L1570.0,1270.8 L1573.0,1274.5 L1576.0,1278.1 L1579.0,1281.7 L1582.0,1285.2 L1585.0,1288.8 L1588.0,1292.3 L1591.0,1295.8 L1594.0,1299.2 L1597.0,1302.7 L1600.0,1306.1 L1603.0,1309.4 L1606.0,1312.8 L1609.0,1316.1 L1612.0,1319.3 L1615.0,1322.5 L1618.0,1325.7 L1621.0,1328.9 L1624.0,1332.0 L1627.0,1335.1 L1630.0,1338.1 L1633.0,1341.1 L1636.0,1344.1 L1639.0,1347.0 L1642.0,1349.9 L1645.0,1352.8 L1648.0,1355.6 L1651.0,1358.4 L1654.0,1361.1 L1657.0,1363.9 L1660.0,1366.5 L1663.0,1369.2 L1666.0,1371.8 L1669.0,1374.4 L1672.0,1377.0 L1675.0,1379.5 L1678.0,1382.0 L1681.0,1384.5 L1684.0,1386.9 L1687.0,1389.4 L1690.0,1391.8 L1693.0,1394.1 L1696.0,1396.5 L1699.0,1398.8 L1702.0,1401.1 L1705.0,1403.4 L1708.0,1405.7 L1711.0,1407.9 L1714.0,1410.2 L1717.0,1412.4 L1720.0,1414.6 L1723.0,1416.7 L1726.0,1418.9 L1729.0,1421.0 L1732.0,1423.1 L1735.0,1425.2 L1738.0,1427.3 L1741.0,1429.4 L1744.0,1431.4 L1747.0,1433.5 L1750.0,1435.5 L1753.0,1437.5 L1756.0,1439.4 L1759.0,1441.4 L1762.0,1443.3 L1765.0,1445.2 L1768.0,1447.1 L1771.0,1449.0 L1774.0,1450.9 L1777.0,1452.7 L1780.0,1454.5 L1783.0,1456.3 L1786.0,1458.1 L1789.0,1459.9 L1792.0,1461.6 L1795.0,1463.4 L1798.0,1465.1 L1801.0,1466.8 L1804.0,1468.4 L1807.0,1470.1 L1810.0,1471.7 L1813.0,1473.3 L1816.0,1474.9 L1819.0,1476.4 L1822.0,1478.0 L1825.0,1479.5 L1828.0,1481.0 L1831.0,1482.5 L1834.0,1484.0 L1837.0,1485.4 L1840.0,1486.8 L1843.0,1488.2 L1846.0,1489.6 L1849.0,1490.9 L1852.0,1492.3 L1855.0,1493.6 L1858.0,1494.9 L1861.0,1496.1 L1864.0,1497.4 L1867.0,1498.6 L1870.0,1499.8 L1873.0,1501.0 L1876.0,1502.2 L1879.0,1503.3 L1882.0,1504.4 L1885.0,1505.5 L1888.0,1506.6 L1891.0,1507.6 L1894.0,1508.6 L1897.0,1509.6 L1900.0,1510.6 L1903.0,1511.6 L1906.0,1512.5 L1909.0,1513.4 L1912.0,1514.3 L1915.0,1515.2 L1918.0,1516.0 L1921.0,1516.8 L1924.0,1517.6 L1927.0,1518.4 L1930.0,1519.1 L1933.0,1519.9 L1936.0,1520.5" fill="none" stroke="#000" stroke-width="11" stroke-linejoin="round"/>
<path d="M910.0,1522.0 L913.0,1516.0 L916.0,1509.9 L919.0,1503.9 L922.0,1497.7 L925.0,1491.6 L928.0,1485.4 L931.0,1479.1 L934.0,1472.9 L937.0,1466.6 L940.0,1460.2 L943.0,1453.8 L946.0,1447.4 L949.0,1441.0 L952.0,1434.5 L955.0,1428.0 L958.0,1421.4 L961.0,1414.8 L964.0,1408.2 L967.0,1401.6 L970.0,1394.9 L973.0,1388.1 L976.0,1381.4 L979.0,1374.6 L982.0,1367.8 L985.0,1360.9 L988.0,1354.0 L991.0,1347.1 L994.0,1340.2 L997.0,1333.2 L1000.0,1326.2 L1003.0,1319.1 L1006.0,1312.1 L1009.0,1305.0 L1012.0,1297.8 L1015.0,1290.7 L1018.0,1283.5 L1021.0,1276.2 L1024.0,1269.0 L1027.0,1261.7 L1030.0,1254.4 L1033.0,1247.0 L1036.0,1239.7 L1039.0,1232.3 L1042.0,1224.9 L1045.0,1217.4 L1048.0,1209.9 L1051.0,1202.4 L1054.0,1194.9 L1057.0,1187.3 L1060.0,1179.7 L1063.0,1172.1 L1066.0,1164.4 L1069.0,1156.8 L1072.0,1149.1 L1075.0,1141.3 L1078.0,1133.6 L1081.0,1125.8 L1084.0,1118.0 L1087.0,1110.2 L1090.0,1102.4 L1093.0,1094.5 L1096.0,1086.6 L1099.0,1078.7 L1102.0,1070.7 L1105.0,1062.8 L1108.0,1054.8 L1111.0,1046.7 L1114.0,1038.7 L1117.0,1030.6 L1120.0,1022.6 L1123.0,1014.5 L1126.0,1006.3 L1129.0,998.2 L1132.0,990.0 L1135.0,981.8 L1138.0,973.6 L1141.0,965.4 L1144.0,957.1 L1147.0,948.9 L1150.0,940.6 L1153.0,932.2 L1156.0,923.9 L1159.0,915.6 L1162.0,907.2 L1165.0,898.8 L1168.0,890.4 L1171.0,882.0 L1174.0,873.5 L1177.0,865.0 L1180.0,856.6 L1183.0,848.1 L1186.0,839.5 L1189.0,831.0 L1192.0,822.4 L1195.0,813.9 L1198.0,805.3 L1201.0,796.7 L1204.0,788.1 L1207.0,779.4 L1210.0,770.8 L1213.0,762.2 L1216.0,753.5 L1219.0,744.8 L1222.0,736.2 L1225.0,727.5 L1228.0,718.8 L1231.0,710.2 L1234.0,701.5 L1237.0,692.8 L1240.0,684.1 L1243.0,675.5 L1246.0,666.8 L1249.0,658.2 L1252.0,649.6 L1255.0,640.9 L1258.0,632.3 L1261.0,623.7 L1264.0,615.2 L1267.0,606.6 L1270.0,598.1 L1273.0,589.6 L1276.0,581.1 L1279.0,572.6 L1282.0,564.1 L1285.0,555.7 L1288.0,547.3 L1291.0,539.0 L1294.0,530.7 L1297.0,522.4 L1300.0,514.1 L1303.0,505.9 L1306.0,497.7 L1309.0,489.6 L1312.0,481.5 L1315.0,473.4 L1318.0,465.4 L1321.0,457.4 L1324.0,449.5 L1327.0,441.6 L1330.0,433.8 L1333.0,426.1 L1336.0,418.5 L1339.0,411.0 L1342.0,403.6 L1345.0,396.4 L1348.0,389.4 L1351.0,382.6 L1354.0,376.0 L1357.0,369.6 L1360.0,363.5 L1363.0,357.7 L1366.0,352.2 L1369.0,346.9 L1372.0,342.1 L1375.0,337.5 L1378.0,333.4 L1381.0,329.6 L1384.0,326.2 L1387.0,323.3 L1390.0,320.8 L1393.0,318.8 L1396.0,317.3 L1399.0,316.3 L1402.0,315.9 L1405.0,316.1 L1408.0,317.0 L1411.0,318.7 L1414.0,321.1 L1417.0,324.4 L1420.0,328.6 L1423.0,333.7 L1426.0,339.8 L1429.0,346.9 L1432.0,355.1 L1435.0,364.5 L1438.0,375.0 L1441.0,386.8 L1444.0,399.9 L1447.0,414.2 L1450.0,429.7 L1453.0,446.3 L1456.0,463.8 L1459.0,482.1 L1462.0,501.2 L1465.0,520.9 L1468.0,541.1 L1471.0,561.7 L1474.0,582.7 L1477.0,603.9 L1480.0,625.2 L1483.0,646.5 L1486.0,667.6 L1489.0,688.6 L1492.0,709.3 L1495.0,729.5 L1498.0,749.2 L1501.0,768.3 L1504.0,786.7 L1507.0,804.5 L1510.0,821.6 L1513.0,838.1 L1516.0,854.0 L1519.0,869.2 L1522.0,884.0 L1525.0,898.1 L1528.0,911.8 L1531.0,924.9 L1534.0,937.5 L1537.0,949.6 L1540.0,961.3 L1543.0,972.5 L1546.0,983.3 L1549.0,993.7 L1552.0,1003.7 L1555.0,1013.4 L1558.0,1022.6 L1561.0,1031.6 L1564.0,1040.2 L1567.0,1048.5 L1570.0,1056.6 L1573.0,1064.4 L1576.0,1071.9 L1579.0,1079.3 L1582.0,1086.4 L1585.0,1093.3 L1588.0,1100.1 L1591.0,1106.7 L1594.0,1113.1 L1597.0,1119.5 L1600.0,1125.7 L1603.0,1131.9 L1606.0,1137.9 L1609.0,1143.9 L1612.0,1149.8 L1615.0,1155.6 L1618.0,1161.3 L1621.0,1166.9 L1624.0,1172.4 L1627.0,1177.9 L1630.0,1183.2 L1633.0,1188.5 L1636.0,1193.7 L1639.0,1198.8 L1642.0,1203.8 L1645.0,1208.8 L1648.0,1213.6 L1651.0,1218.4 L1654.0,1223.2 L1657.0,1227.8 L1660.0,1232.4 L1663.0,1236.9 L1666.0,1241.3 L1669.0,1245.7 L1672.0,1250.0 L1675.0,1254.2 L1678.0,1258.4 L1681.0,1262.5 L1684.0,1266.5 L1687.0,1270.5 L1690.0,1274.4 L1693.0,1278.2 L1696.0,1282.0 L1699.0,1285.7 L1702.0,1289.4 L1705.0,1293.0 L1708.0,1296.6 L1711.0,1300.1 L1714.0,1303.5 L1717.0,1306.9 L1720.0,1310.3 L1723.0,1313.6 L1726.0,1316.8 L1729.0,1320.0 L1732.0,1323.2 L1735.0,1326.3 L1738.0,1329.4 L1741.0,1332.4 L1744.0,1335.4 L1747.0,1338.3 L1750.0,1341.2 L1753.0,1344.1 L1756.0,1346.9 L1759.0,1349.7 L1762.0,1352.5 L1765.0,1355.2 L1768.0,1357.9 L1771.0,1360.6 L1774.0,1363.2 L1777.0,1365.8 L1780.0,1368.4 L1783.0,1370.9 L1786.0,1373.4 L1789.0,1375.9 L1792.0,1378.4 L1795.0,1380.8 L1798.0,1383.3 L1801.0,1385.7 L1804.0,1388.1 L1807.0,1390.4 L1810.0,1392.8 L1813.0,1395.1 L1816.0,1397.4 L1819.0,1399.7 L1822.0,1402.0 L1825.0,1404.3 L1828.0,1406.5 L1831.0,1408.8 L1834.0,1411.0 L1837.0,1413.2 L1840.0,1415.4 L1843.0,1417.5 L1846.0,1419.7 L1849.0,1421.8 L1852.0,1423.9 L1855.0,1426.0 L1858.0,1428.1 L1861.0,1430.1 L1864.0,1432.2 L1867.0,1434.2 L1870.0,1436.2 L1873.0,1438.2 L1876.0,1440.2 L1879.0,1442.1 L1882.0,1444.1 L1885.0,1446.0 L1888.0,1447.9 L1891.0,1449.7 L1894.0,1451.6 L1897.0,1453.4 L1900.0,1455.3 L1903.0,1457.1 L1906.0,1458.9 L1909.0,1460.6 L1912.0,1462.4 L1915.0,1464.1 L1918.0,1465.8 L1921.0,1467.5 L1924.0,1469.2 L1927.0,1470.8 L1930.0,1472.5 L1933.0,1474.1 L1936.0,1475.7 L1939.0,1477.2 L1942.0,1478.8 L1945.0,1480.3 L1948.0,1481.9 L1951.0,1483.4 L1954.0,1484.8 L1957.0,1486.3 L1960.0,1487.7 L1963.0,1489.2 L1966.0,1490.6 L1969.0,1491.9 L1972.0,1493.3 L1975.0,1494.6 L1978.0,1496.0 L1981.0,1497.3 L1984.0,1498.5 L1987.0,1499.8 L1990.0,1501.0 L1993.0,1502.3 L1996.0,1503.5 L1999.0,1504.6 L2002.0,1505.8 L2005.0,1506.9 L2008.0,1508.0 L2011.0,1509.1 L2014.0,1510.2 L2017.0,1511.3 L2020.0,1512.3 L2023.0,1513.3 L2026.0,1514.3 L2029.0,1515.3 L2032.0,1516.2 L2035.0,1517.1 L2038.0,1518.1 L2041.0,1518.9 L2044.0,1519.8 L2047.0,1520.6 L2050.0,1521.5" fill="none" stroke="#000" stroke-width="11" stroke-linejoin="round"/>
<path d="M296,1517h7v8h-7zM298,1516h7v8h-7zM299,1516h7v8h-7zM300,1515h7v8h-7zM302,1514h7v8h-7zM304,1514h7v8h-7zM305,1513h7v8h-7zM306,1513h7v8h-7zM308,1512h7v8h-7zM310,1511h7v8h-7zM311,1511h7v8h-7zM312,1510h7v8h-7zM314,1510h7v8h-7zM316,1509h7v8h-7zM317,1508h7v8h-7zM318,1508h7v8h-7zM320,1507h7v8h-7zM322,1507h7v8h-7zM323,1506h7v8h-7zM324,1505h7v8h-7zM326,1505h7v8h-7zM328,1504h7v8h-7zM329,1504h7v8h-7zM330,1503h7v8h-7zM332,1503h7v8h-7zM334,1502h7v8h-7zM335,1501h7v8h-7zM336,1501h7v8h-7zM338,1500h7v8h-7zM340,1500h7v8h-7zM341,1499h7v8h-7zM342,1499h7v8h-7zM344,1498h7v8h-7zM346,1498h7v8h-7zM347,1497h7v8h-7zM348,1496h7v8h-7zM350,1496h7v8h-7zM352,1495h7v8h-7zM353,1495h7v8h-7zM354,1494h7v8h-7zM356,1494h7v8h-7zM358,1493h7v8h-7zM359,1493h7v8h-7zM360,1492h7v8h-7zM362,1492h7v8h-7zM364,1491h7v8h-7zM365,1491h7v8h-7zM366,1490h7v8h-7zM368,1490h7v8h-7zM370,1489h7v8h-7zM371,1489h7v8h-7zM372,1488h7v8h-7zM374,1488h7v8h-7zM376,1487h7v8h-7zM377,1487h7v8h-7zM378,1486h7v8h-7zM380,1486h7v8h-7zM382,1485h7v8h-7zM383,1485h7v8h-7zM384,1484h7v8h-7zM386,1484h7v8h-7zM388,1483h7v8h-7zM389,1483h7v8h-7zM390,1483h7v8h-7zM392,1482h7v8h-7zM394,1482h7v8h-7zM395,1481h7v8h-7zM396,1481h7v8h-7zM398,1480h7v8h-7zM400,1480h7v8h-7zM401,1479h7v8h-7zM402,1479h7v8h-7zM404,1478h7v8h-7zM406,1478h7v8h-7zM407,1478h7v8h-7zM408,1477h7v8h-7zM410,1477h7v8h-7zM412,1476h7v8h-7zM413,1476h7v8h-7zM414,1475h7v8h-7zM416,1475h7v8h-7zM418,1474h7v8h-7zM419,1474h7v8h-7zM420,1474h7v8h-7zM422,1473h7v8h-7zM424,1473h7v8h-7zM425,1472h7v8h-7zM426,1472h7v8h-7zM428,1471h7v8h-7zM430,1471h7v8h-7zM431,1470h7v8h-7zM432,1470h7v8h-7zM434,1470h7v8h-7zM436,1469h7v8h-7zM437,1469h7v8h-7zM438,1468h7v8h-7zM440,1468h7v8h-7zM442,1468h7v8h-7zM443,1467h7v8h-7zM444,1467h7v8h-7zM446,1466h7v8h-7zM448,1466h7v8h-7zM449,1465h7v8h-7zM450,1465h7v8h-7zM452,1465h7v8h-7zM454,1464h7v8h-7zM455,1464h7v8h-7zM456,1463h7v8h-7zM458,1463h7v8h-7zM460,1463h7v8h-7zM461,1462h7v8h-7zM462,1462h7v8h-7zM464,1461h7v8h-7zM466,1461h7v8h-7zM467,1460h7v8h-7zM468,1460h7v8h-7zM470,1460h7v8h-7zM472,1459h7v8h-7zM473,1459h7v8h-7zM474,1458h7v8h-7zM476,1458h7v8h-7zM478,1458h7v8h-7zM479,1457h7v8h-7zM480,1457h7v8h-7zM482,1456h7v8h-7zM484,1456h7v8h-7zM485,1456h7v8h-7zM486,1455h7v8h-7zM488,1455h7v8h-7zM490,1454h7v8h-7zM491,1454h7v8h-7zM492,1454h7v8h-7zM494,1453h7v8h-7zM496,1453h7v8h-7zM497,1452h7v8h-7zM498,1452h7v8h-7zM500,1451h7v8h-7zM502,1451h7v8h-7zM503,1451h7v8h-7zM504,1450h7v8h-7zM506,1450h7v8h-7zM508,1449h7v8h-7zM509,1449h7v8h-7zM510,1449h7v8h-7zM512,1448h7v8h-7zM514,1448h7v8h-7zM515,1447h7v8h-7zM516,1447h7v8h-7zM518,1447h7v8h-7zM520,1446h7v8h-7zM521,1446h7v8h-7zM522,1445h7v8h-7zM524,1445h7v8h-7zM526,1444h7v8h-7zM527,1444h7v8h-7zM528,1444h7v8h-7zM530,1443h7v8h-7zM532,1443h7v8h-7zM533,1442h7v8h-7zM534,1442h7v8h-7zM536,1441h7v8h-7zM538,1441h7v8h-7zM539,1441h7v8h-7zM540,1440h7v8h-7zM542,1440h7v8h-7zM544,1439h7v8h-7zM545,1439h7v8h-7zM546,1438h7v8h-7zM548,1438h7v8h-7zM550,1438h7v8h-7zM551,1437h7v8h-7zM552,1437h7v8h-7zM554,1436h7v8h-7zM556,1436h7v8h-7zM557,1435h7v8h-7zM558,1435h7v8h-7zM560,1435h7v8h-7zM562,1434h7v8h-7zM563,1434h7v8h-7zM564,1433h7v8h-7zM566,1433h7v8h-7zM568,1432h7v8h-7zM569,1432h7v8h-7zM570,1431h7v8h-7zM572,1431h7v8h-7zM574,1431h7v8h-7zM575,1430h7v8h-7zM576,1430h7v8h-7zM578,1429h7v8h-7zM580,1429h7v8h-7zM581,1428h7v8h-7zM582,1428h7v8h-7zM584,1427h7v8h-7zM586,1427h7v8h-7zM587,1427h7v8h-7zM588,1426h7v8h-7zM590,1426h7v8h-7zM592,1425h7v8h-7zM593,1425h7v8h-7zM594,1424h7v8h-7zM596,1424h7v8h-7zM598,1424h7v8h-7zM599,1423h7v8h-7zM600,1423h7v8h-7zM602,1422h7v8h-7zM604,1422h7v8h-7zM605,1421h7v8h-7zM606,1421h7v8h-7zM608,1421h7v8h-7zM610,1420h7v8h-7zM611,1420h7v8h-7zM612,1419h7v8h-7zM614,1419h7v8h-7zM616,1419h7v8h-7zM617,1418h7v8h-7zM618,1418h7v8h-7zM620,1417h7v8h-7zM622,1417h7v8h-7zM623,1416h7v8h-7zM624,1416h7v8h-7zM626,1416h7v8h-7zM628,1415h7v8h-7zM629,1415h7v8h-7zM630,1415h7v8h-7zM632,1414h7v8h-7zM634,1414h7v8h-7zM635,1413h7v8h-7zM636,1413h7v8h-7zM638,1413h7v8h-7zM640,1412h7v8h-7zM641,1412h7v8h-7zM642,1411h7v8h-7zM644,1411h7v8h-7zM646,1411h7v8h-7zM647,1410h7v8h-7zM648,1410h7v8h-7zM650,1410h7v8h-7zM652,1409h7v8h-7zM653,1409h7v8h-7zM654,1409h7v8h-7zM656,1408h7v8h-7zM658,1408h7v8h-7zM659,1408h7v8h-7zM660,1407h7v8h-7zM662,1407h7v8h-7zM664,1407h7v8h-7zM665,1406h7v8h-7zM666,1406h7v8h-7zM668,1406h7v8h-7zM670,1405h7v8h-7zM671,1405h7v8h-7zM672,1405h7v8h-7zM674,1404h7v8h-7zM676,1404h7v8h-7zM677,1404h7v8h-7zM678,1404h7v8h-7zM680,1403h7v8h-7zM682,1403h7v8h-7zM683,1403h7v8h-7zM684,1402h7v8h-7zM686,1402h7v8h-7zM688,1402h7v8h-7zM689,1402h7v8h-7zM690,1401h7v8h-7zM692,1401h7v8h-7zM694,1401h7v8h-7zM695,1401h7v8h-7zM696,1401h7v8h-7zM698,1400h7v8h-7zM700,1400h7v8h-7zM701,1400h7v8h-7zM702,1400h7v8h-7zM704,1399h7v8h-7zM706,1399h7v8h-7zM707,1399h7v8h-7zM708,1399h7v8h-7zM710,1399h7v8h-7zM712,1399h7v8h-7zM713,1398h7v8h-7zM714,1398h7v8h-7zM716,1398h7v8h-7zM718,1398h7v8h-7zM719,1398h7v8h-7zM720,1398h7v8h-7zM722,1397h7v8h-7zM724,1397h7v8h-7zM725,1397h7v8h-7zM726,1397h7v8h-7zM728,1397h7v8h-7zM730,1397h7v8h-7zM731,1397h7v8h-7zM732,1397h7v8h-7zM734,1397h7v8h-7zM736,1396h7v8h-7zM737,1396h7v8h-7zM738,1396h7v8h-7zM740,1396h7v8h-7zM742,1396h7v8h-7zM743,1396h7v8h-7zM744,1396h7v8h-7zM746,1396h7v8h-7zM748,1396h7v8h-7zM749,1396h7v8h-7zM750,1396h7v8h-7zM752,1396h7v8h-7zM754,1396h7v8h-7zM755,1396h7v8h-7zM756,1396h7v8h-7zM758,1396h7v8h-7zM760,1396h7v8h-7zM761,1396h7v8h-7zM762,1396h7v8h-7zM764,1396h7v8h-7zM766,1396h7v8h-7zM767,1396h7v8h-7zM768,1397h7v8h-7zM770,1397h7v8h-7zM772,1397h7v8h-7zM773,1397h7v8h-7zM774,1397h7v8h-7zM776,1397h7v8h-7zM778,1397h7v8h-7zM779,1397h7v8h-7zM780,1397h7v8h-7zM782,1398h7v8h-7zM784,1398h7v8h-7zM785,1398h7v8h-7zM786,1398h7v8h-7zM788,1398h7v8h-7zM790,1398h7v8h-7zM791,1399h7v8h-7zM792,1399h7v8h-7zM794,1399h7v8h-7zM796,1399h7v8h-7zM797,1399h7v8h-7zM798,1400h7v8h-7zM800,1400h7v8h-7zM802,1400h7v8h-7zM803,1400h7v8h-7zM804,1401h7v8h-7zM806,1401h7v8h-7zM808,1401h7v8h-7zM809,1401h7v8h-7zM810,1402h7v8h-7zM812,1402h7v8h-7zM814,1402h7v8h-7zM815,1402h7v8h-7zM816,1403h7v8h-7zM818,1403h7v8h-7zM820,1403h7v8h-7zM821,1404h7v8h-7zM822,1404h7v8h-7zM824,1404h7v8h-7zM826,1405h7v8h-7zM827,1405h7v8h-7zM828,1405h7v8h-7zM830,1406h7v8h-7zM832,1406h7v8h-7zM833,1406h7v8h-7zM834,1407h7v8h-7zM836,1407h7v8h-7zM838,1407h7v8h-7zM839,1408h7v8h-7zM840,1408h7v8h-7zM842,1409h7v8h-7zM844,1409h7v8h-7zM845,1409h7v8h-7zM846,1410h7v8h-7zM848,1410h7v8h-7zM850,1411h7v8h-7zM851,1411h7v8h-7zM852,1412h7v8h-7zM854,1412h7v8h-7zM856,1413h7v8h-7zM857,1413h7v8h-7zM858,1413h7v8h-7zM860,1414h7v8h-7zM862,1414h7v8h-7zM863,1415h7v8h-7zM864,1415h7v8h-7zM866,1416h7v8h-7zM868,1416h7v8h-7zM869,1417h7v8h-7zM870,1417h7v8h-7zM872,1418h7v8h-7zM874,1418h7v8h-7zM875,1419h7v8h-7zM876,1419h7v8h-7zM878,1420h7v8h-7zM880,1420h7v8h-7zM881,1421h7v8h-7zM882,1421h7v8h-7zM884,1422h7v8h-7zM886,1423h7v8h-7zM887,1423h7v8h-7zM888,1424h7v8h-7zM890,1424h7v8h-7zM892,1425h7v8h-7zM893,1425h7v8h-7zM894,1426h7v8h-7zM896,1427h7v8h-7zM898,1427h7v8h-7zM899,1428h7v8h-7zM900,1428h7v8h-7zM902,1429h7v8h-7zM904,1430h7v8h-7zM905,1430h7v8h-7zM906,1431h7v8h-7zM908,1431h7v8h-7zM910,1432h7v8h-7zM911,1433h7v8h-7zM912,1433h7v8h-7zM914,1434h7v8h-7zM916,1434h7v8h-7zM917,1435h7v8h-7zM918,1436h7v8h-7zM920,1436h7v8h-7zM922,1437h7v8h-7zM923,1438h7v8h-7zM924,1438h7v8h-7zM926,1439h7v8h-7zM928,1440h7v8h-7zM929,1440h7v8h-7zM930,1441h7v8h-7zM932,1442h7v8h-7zM934,1442h7v8h-7zM935,1443h7v8h-7zM936,1443h7v8h-7zM938,1444h7v8h-7zM940,1445h7v8h-7zM941,1445h7v8h-7zM942,1446h7v8h-7zM944,1447h7v8h-7zM946,1447h7v8h-7zM947,1448h7v8h-7zM948,1449h7v8h-7zM950,1449h7v8h-7zM952,1450h7v8h-7zM953,1451h7v8h-7zM954,1451h7v8h-7zM956,1452h7v8h-7zM958,1453h7v8h-7zM959,1453h7v8h-7zM960,1454h7v8h-7zM962,1455h7v8h-7zM964,1455h7v8h-7zM965,1456h7v8h-7zM966,1457h7v8h-7zM968,1457h7v8h-7zM970,1458h7v8h-7zM971,1459h7v8h-7zM972,1459h7v8h-7zM974,1460h7v8h-7zM976,1461h7v8h-7zM977,1461h7v8h-7zM978,1462h7v8h-7zM980,1463h7v8h-7zM982,1463h7v8h-7zM983,1464h7v8h-7zM984,1465h7v8h-7zM986,1465h7v8h-7zM988,1466h7v8h-7zM989,1466h7v8h-7zM990,1467h7v8h-7zM992,1468h7v8h-7zM994,1468h7v8h-7zM995,1469h7v8h-7zM996,1470h7v8h-7zM998,1470h7v8h-7zM1000,1471h7v8h-7zM1001,1471h7v8h-7zM1002,1472h7v8h-7zM1004,1473h7v8h-7zM1006,1473h7v8h-7zM1007,1474h7v8h-7zM1008,1475h7v8h-7zM1010,1475h7v8h-7zM1012,1476h7v8h-7zM1013,1476h7v8h-7zM1014,1477h7v8h-7zM1016,1478h7v8h-7zM1018,1478h7v8h-7zM1019,1479h7v8h-7zM1020,1479h7v8h-7zM1022,1480h7v8h-7zM1024,1481h7v8h-7zM1025,1481h7v8h-7zM1026,1482h7v8h-7zM1028,1482h7v8h-7zM1030,1483h7v8h-7zM1031,1483h7v8h-7zM1032,1484h7v8h-7zM1034,1485h7v8h-7zM1036,1485h7v8h-7zM1037,1486h7v8h-7zM1038,1486h7v8h-7zM1040,1487h7v8h-7zM1042,1487h7v8h-7zM1043,1488h7v8h-7zM1044,1488h7v8h-7zM1046,1489h7v8h-7zM1048,1489h7v8h-7zM1049,1490h7v8h-7zM1050,1490h7v8h-7zM1052,1491h7v8h-7zM1054,1492h7v8h-7zM1055,1492h7v8h-7zM1056,1493h7v8h-7zM1058,1493h7v8h-7zM1060,1494h7v8h-7zM1061,1494h7v8h-7zM1062,1495h7v8h-7zM1064,1495h7v8h-7zM1066,1496h7v8h-7zM1067,1496h7v8h-7zM1068,1496h7v8h-7zM1070,1497h7v8h-7zM1072,1497h7v8h-7zM1073,1498h7v8h-7zM1074,1498h7v8h-7zM1076,1499h7v8h-7zM1078,1499h7v8h-7zM1079,1500h7v8h-7zM1080,1500h7v8h-7zM1082,1501h7v8h-7zM1084,1501h7v8h-7zM1085,1501h7v8h-7zM1086,1502h7v8h-7zM1088,1502h7v8h-7zM1090,1503h7v8h-7zM1091,1503h7v8h-7zM1092,1504h7v8h-7zM1094,1504h7v8h-7zM1096,1504h7v8h-7zM1097,1505h7v8h-7zM1098,1505h7v8h-7zM1100,1505h7v8h-7zM1102,1506h7v8h-7zM1103,1506h7v8h-7zM1104,1507h7v8h-7zM1106,1507h7v8h-7zM1108,1507h7v8h-7zM1109,1508h7v8h-7zM1110,1508h7v8h-7zM1112,1508h7v8h-7zM1114,1509h7v8h-7zM1115,1509h7v8h-7zM1116,1509h7v8h-7zM1118,1510h7v8h-7zM1120,1510h7v8h-7zM1121,1510h7v8h-7zM1122,1510h7v8h-7zM1124,1511h7v8h-7zM1126,1511h7v8h-7zM1127,1511h7v8h-7zM1128,1512h7v8h-7zM1130,1512h7v8h-7zM1132,1512h7v8h-7zM1133,1512h7v8h-7zM1134,1513h7v8h-7zM1136,1513h7v8h-7zM1138,1513h7v8h-7zM1139,1513h7v8h-7zM1140,1514h7v8h-7zM1142,1514h7v8h-7zM1144,1514h7v8h-7zM1145,1514h7v8h-7zM1146,1514h7v8h-7zM1148,1515h7v8h-7zM1150,1515h7v8h-7zM1151,1515h7v8h-7zM1152,1515h7v8h-7zM1154,1515h7v8h-7zM1156,1516h7v8h-7zM1157,1516h7v8h-7zM1158,1516h7v8h-7zM1160,1516h7v8h-7zM1162,1516h7v8h-7zM1163,1516h7v8h-7zM1164,1516h7v8h-7zM1166,1516h7v8h-7zM1168,1517h7v8h-7zM1169,1517h7v8h-7zM1170,1517h7v8h-7zM1172,1517h7v8h-7zM1174,1517h7v8h-7z" fill="#b23aff" shape-rendering="crispEdges"/>
<path d="M246,1515h7v8h-7zM248,1514h7v8h-7zM251,1514h7v8h-7zM253,1513h7v8h-7zM255,1513h7v8h-7zM257,1512h7v8h-7zM260,1511h7v8h-7zM262,1511h7v8h-7zM264,1510h7v8h-7zM266,1509h7v8h-7zM269,1509h7v8h-7zM271,1508h7v8h-7zM273,1508h7v8h-7zM275,1507h7v8h-7zM278,1506h7v8h-7zM280,1506h7v8h-7zM282,1505h7v8h-7zM284,1504h7v8h-7zM287,1504h7v8h-7zM289,1503h7v8h-7zM291,1502h7v8h-7zM293,1502h7v8h-7zM296,1501h7v8h-7zM298,1500h7v8h-7zM300,1500h7v8h-7zM302,1499h7v8h-7zM305,1498h7v8h-7zM307,1498h7v8h-7zM309,1497h7v8h-7zM312,1496h7v8h-7zM314,1496h7v8h-7zM316,1495h7v8h-7zM318,1494h7v8h-7zM321,1494h7v8h-7zM323,1493h7v8h-7zM325,1492h7v8h-7zM327,1492h7v8h-7zM330,1491h7v8h-7zM332,1490h7v8h-7zM334,1489h7v8h-7zM336,1489h7v8h-7zM339,1488h7v8h-7zM341,1487h7v8h-7zM343,1487h7v8h-7zM345,1486h7v8h-7zM348,1485h7v8h-7zM350,1484h7v8h-7zM352,1484h7v8h-7zM354,1483h7v8h-7zM357,1482h7v8h-7zM359,1481h7v8h-7zM361,1480h7v8h-7zM364,1480h7v8h-7zM366,1479h7v8h-7zM368,1478h7v8h-7zM370,1477h7v8h-7zM373,1476h7v8h-7zM375,1476h7v8h-7zM377,1475h7v8h-7zM379,1474h7v8h-7zM382,1473h7v8h-7zM384,1472h7v8h-7zM386,1471h7v8h-7zM388,1470h7v8h-7zM391,1470h7v8h-7zM393,1469h7v8h-7zM395,1468h7v8h-7zM397,1467h7v8h-7zM400,1466h7v8h-7zM402,1465h7v8h-7zM404,1464h7v8h-7zM406,1463h7v8h-7zM409,1462h7v8h-7zM411,1461h7v8h-7zM413,1460h7v8h-7zM415,1460h7v8h-7zM418,1459h7v8h-7zM420,1458h7v8h-7zM422,1457h7v8h-7zM425,1456h7v8h-7zM427,1455h7v8h-7zM429,1454h7v8h-7zM431,1453h7v8h-7zM434,1452h7v8h-7zM436,1451h7v8h-7zM438,1449h7v8h-7zM440,1448h7v8h-7zM443,1447h7v8h-7zM445,1446h7v8h-7zM447,1445h7v8h-7zM449,1444h7v8h-7zM452,1443h7v8h-7zM454,1442h7v8h-7zM456,1441h7v8h-7zM458,1440h7v8h-7zM461,1438h7v8h-7zM463,1437h7v8h-7zM465,1436h7v8h-7zM467,1435h7v8h-7zM470,1434h7v8h-7zM472,1433h7v8h-7zM474,1431h7v8h-7zM477,1430h7v8h-7zM479,1429h7v8h-7zM481,1428h7v8h-7zM483,1427h7v8h-7zM486,1425h7v8h-7zM488,1424h7v8h-7zM490,1423h7v8h-7zM492,1422h7v8h-7zM495,1420h7v8h-7zM497,1419h7v8h-7zM499,1418h7v8h-7zM501,1417h7v8h-7zM504,1415h7v8h-7zM506,1414h7v8h-7zM508,1413h7v8h-7zM510,1412h7v8h-7zM513,1410h7v8h-7zM515,1409h7v8h-7zM517,1408h7v8h-7zM519,1406h7v8h-7zM522,1405h7v8h-7zM524,1404h7v8h-7zM526,1402h7v8h-7zM528,1401h7v8h-7zM531,1400h7v8h-7zM533,1398h7v8h-7zM535,1397h7v8h-7zM538,1396h7v8h-7zM540,1394h7v8h-7zM542,1393h7v8h-7zM544,1392h7v8h-7zM547,1390h7v8h-7zM549,1389h7v8h-7zM551,1388h7v8h-7zM553,1386h7v8h-7zM556,1385h7v8h-7zM558,1384h7v8h-7zM560,1382h7v8h-7zM562,1381h7v8h-7zM565,1379h7v8h-7zM567,1378h7v8h-7zM569,1377h7v8h-7zM571,1375h7v8h-7zM574,1374h7v8h-7zM576,1373h7v8h-7zM578,1371h7v8h-7zM580,1370h7v8h-7zM583,1368h7v8h-7zM585,1367h7v8h-7zM587,1366h7v8h-7zM590,1364h7v8h-7zM592,1363h7v8h-7zM594,1361h7v8h-7zM596,1360h7v8h-7zM599,1359h7v8h-7zM601,1357h7v8h-7zM603,1356h7v8h-7zM605,1354h7v8h-7zM608,1353h7v8h-7zM610,1352h7v8h-7zM612,1350h7v8h-7zM614,1349h7v8h-7zM617,1348h7v8h-7zM619,1346h7v8h-7zM621,1345h7v8h-7zM623,1343h7v8h-7zM626,1342h7v8h-7zM628,1341h7v8h-7zM630,1339h7v8h-7zM632,1338h7v8h-7zM635,1337h7v8h-7zM637,1335h7v8h-7zM639,1334h7v8h-7zM641,1333h7v8h-7zM644,1331h7v8h-7zM646,1330h7v8h-7zM648,1329h7v8h-7zM651,1327h7v8h-7zM653,1326h7v8h-7zM655,1325h7v8h-7zM657,1323h7v8h-7zM660,1322h7v8h-7zM662,1321h7v8h-7zM664,1320h7v8h-7zM666,1318h7v8h-7zM669,1317h7v8h-7zM671,1316h7v8h-7zM673,1314h7v8h-7zM675,1313h7v8h-7zM678,1312h7v8h-7zM680,1311h7v8h-7zM682,1310h7v8h-7zM684,1308h7v8h-7zM687,1307h7v8h-7zM689,1306h7v8h-7zM691,1305h7v8h-7zM693,1304h7v8h-7zM696,1303h7v8h-7zM698,1301h7v8h-7zM700,1300h7v8h-7zM703,1299h7v8h-7zM705,1298h7v8h-7zM707,1297h7v8h-7zM709,1296h7v8h-7zM712,1295h7v8h-7zM714,1294h7v8h-7zM716,1293h7v8h-7zM718,1292h7v8h-7zM721,1291h7v8h-7zM723,1290h7v8h-7zM725,1289h7v8h-7zM727,1288h7v8h-7zM730,1287h7v8h-7zM732,1286h7v8h-7zM734,1285h7v8h-7zM736,1284h7v8h-7zM739,1283h7v8h-7zM741,1282h7v8h-7zM743,1282h7v8h-7zM745,1281h7v8h-7zM748,1280h7v8h-7zM750,1279h7v8h-7zM752,1278h7v8h-7zM754,1278h7v8h-7zM757,1277h7v8h-7zM759,1276h7v8h-7zM761,1275h7v8h-7zM764,1275h7v8h-7zM766,1274h7v8h-7zM768,1273h7v8h-7zM770,1273h7v8h-7zM773,1272h7v8h-7zM775,1271h7v8h-7zM777,1271h7v8h-7zM779,1270h7v8h-7zM782,1270h7v8h-7zM784,1269h7v8h-7zM786,1269h7v8h-7zM788,1268h7v8h-7zM791,1268h7v8h-7zM793,1267h7v8h-7zM795,1267h7v8h-7zM797,1267h7v8h-7zM800,1266h7v8h-7zM802,1266h7v8h-7zM804,1265h7v8h-7zM806,1265h7v8h-7zM809,1265h7v8h-7zM811,1265h7v8h-7zM813,1264h7v8h-7zM816,1264h7v8h-7zM818,1264h7v8h-7zM820,1264h7v8h-7zM822,1263h7v8h-7zM825,1263h7v8h-7zM827,1263h7v8h-7zM829,1263h7v8h-7zM831,1263h7v8h-7zM834,1263h7v8h-7zM836,1263h7v8h-7zM838,1262h7v8h-7zM840,1262h7v8h-7zM843,1262h7v8h-7zM845,1262h7v8h-7zM847,1262h7v8h-7zM849,1262h7v8h-7zM852,1262h7v8h-7zM854,1262h7v8h-7zM856,1262h7v8h-7zM858,1263h7v8h-7zM861,1263h7v8h-7zM863,1263h7v8h-7zM865,1263h7v8h-7zM867,1263h7v8h-7zM870,1263h7v8h-7zM872,1263h7v8h-7zM874,1264h7v8h-7zM877,1264h7v8h-7zM879,1264h7v8h-7zM881,1264h7v8h-7zM883,1265h7v8h-7zM886,1265h7v8h-7zM888,1265h7v8h-7zM890,1265h7v8h-7zM892,1266h7v8h-7zM895,1266h7v8h-7zM897,1266h7v8h-7zM899,1267h7v8h-7zM901,1267h7v8h-7zM904,1268h7v8h-7zM906,1268h7v8h-7zM908,1268h7v8h-7zM910,1269h7v8h-7zM913,1269h7v8h-7zM915,1270h7v8h-7zM917,1270h7v8h-7zM919,1271h7v8h-7zM922,1271h7v8h-7zM924,1272h7v8h-7zM926,1273h7v8h-7zM929,1273h7v8h-7zM931,1274h7v8h-7zM933,1274h7v8h-7zM935,1275h7v8h-7zM938,1276h7v8h-7zM940,1276h7v8h-7zM942,1277h7v8h-7zM944,1278h7v8h-7zM947,1278h7v8h-7zM949,1279h7v8h-7zM951,1280h7v8h-7zM953,1280h7v8h-7zM956,1281h7v8h-7zM958,1282h7v8h-7zM960,1283h7v8h-7zM962,1284h7v8h-7zM965,1284h7v8h-7zM967,1285h7v8h-7zM969,1286h7v8h-7zM971,1287h7v8h-7zM974,1288h7v8h-7zM976,1288h7v8h-7zM978,1289h7v8h-7zM980,1290h7v8h-7zM983,1291h7v8h-7zM985,1292h7v8h-7zM987,1293h7v8h-7zM990,1294h7v8h-7zM992,1295h7v8h-7zM994,1296h7v8h-7zM996,1297h7v8h-7zM999,1298h7v8h-7zM1001,1299h7v8h-7zM1003,1300h7v8h-7zM1005,1301h7v8h-7zM1008,1302h7v8h-7zM1010,1303h7v8h-7zM1012,1304h7v8h-7zM1014,1305h7v8h-7zM1017,1306h7v8h-7zM1019,1307h7v8h-7zM1021,1308h7v8h-7zM1023,1309h7v8h-7zM1026,1310h7v8h-7zM1028,1311h7v8h-7zM1030,1312h7v8h-7zM1032,1313h7v8h-7zM1035,1314h7v8h-7zM1037,1316h7v8h-7zM1039,1317h7v8h-7zM1042,1318h7v8h-7zM1044,1319h7v8h-7zM1046,1320h7v8h-7zM1048,1321h7v8h-7zM1051,1322h7v8h-7zM1053,1324h7v8h-7zM1055,1325h7v8h-7zM1057,1326h7v8h-7zM1060,1327h7v8h-7zM1062,1328h7v8h-7zM1064,1330h7v8h-7zM1066,1331h7v8h-7zM1069,1332h7v8h-7zM1071,1333h7v8h-7zM1073,1334h7v8h-7zM1075,1336h7v8h-7zM1078,1337h7v8h-7zM1080,1338h7v8h-7zM1082,1339h7v8h-7zM1084,1341h7v8h-7zM1087,1342h7v8h-7zM1089,1343h7v8h-7zM1091,1344h7v8h-7zM1093,1346h7v8h-7zM1096,1347h7v8h-7zM1098,1348h7v8h-7zM1100,1349h7v8h-7zM1103,1351h7v8h-7zM1105,1352h7v8h-7zM1107,1353h7v8h-7zM1109,1354h7v8h-7zM1112,1356h7v8h-7zM1114,1357h7v8h-7zM1116,1358h7v8h-7zM1118,1360h7v8h-7zM1121,1361h7v8h-7zM1123,1362h7v8h-7zM1125,1364h7v8h-7zM1127,1365h7v8h-7zM1130,1366h7v8h-7zM1132,1367h7v8h-7zM1134,1369h7v8h-7zM1136,1370h7v8h-7zM1139,1371h7v8h-7zM1141,1373h7v8h-7zM1143,1374h7v8h-7zM1145,1375h7v8h-7zM1148,1377h7v8h-7zM1150,1378h7v8h-7zM1152,1379h7v8h-7zM1155,1380h7v8h-7zM1157,1382h7v8h-7zM1159,1383h7v8h-7zM1161,1384h7v8h-7zM1164,1386h7v8h-7zM1166,1387h7v8h-7zM1168,1388h7v8h-7zM1170,1390h7v8h-7zM1173,1391h7v8h-7zM1175,1392h7v8h-7zM1177,1393h7v8h-7zM1179,1395h7v8h-7zM1182,1396h7v8h-7zM1184,1397h7v8h-7zM1186,1399h7v8h-7zM1188,1400h7v8h-7zM1191,1401h7v8h-7zM1193,1402h7v8h-7zM1195,1404h7v8h-7zM1197,1405h7v8h-7zM1200,1406h7v8h-7zM1202,1407h7v8h-7zM1204,1409h7v8h-7zM1206,1410h7v8h-7zM1209,1411h7v8h-7zM1211,1412h7v8h-7zM1213,1414h7v8h-7zM1216,1415h7v8h-7zM1218,1416h7v8h-7zM1220,1417h7v8h-7zM1222,1419h7v8h-7zM1225,1420h7v8h-7zM1227,1421h7v8h-7zM1229,1422h7v8h-7zM1231,1423h7v8h-7zM1234,1425h7v8h-7zM1236,1426h7v8h-7zM1238,1427h7v8h-7zM1240,1428h7v8h-7zM1243,1429h7v8h-7zM1245,1430h7v8h-7zM1247,1432h7v8h-7zM1249,1433h7v8h-7zM1252,1434h7v8h-7zM1254,1435h7v8h-7zM1256,1436h7v8h-7zM1258,1437h7v8h-7zM1261,1438h7v8h-7zM1263,1439h7v8h-7zM1265,1440h7v8h-7zM1268,1442h7v8h-7zM1270,1443h7v8h-7zM1272,1444h7v8h-7zM1274,1445h7v8h-7zM1277,1446h7v8h-7zM1279,1447h7v8h-7zM1281,1448h7v8h-7zM1283,1449h7v8h-7zM1286,1450h7v8h-7zM1288,1451h7v8h-7zM1290,1452h7v8h-7zM1292,1453h7v8h-7zM1295,1454h7v8h-7zM1297,1455h7v8h-7zM1299,1456h7v8h-7zM1301,1457h7v8h-7zM1304,1458h7v8h-7zM1306,1459h7v8h-7zM1308,1459h7v8h-7zM1310,1460h7v8h-7zM1313,1461h7v8h-7zM1315,1462h7v8h-7zM1317,1463h7v8h-7zM1319,1464h7v8h-7zM1322,1465h7v8h-7zM1324,1466h7v8h-7zM1326,1466h7v8h-7zM1329,1467h7v8h-7zM1331,1468h7v8h-7zM1333,1469h7v8h-7zM1335,1470h7v8h-7zM1338,1471h7v8h-7zM1340,1471h7v8h-7zM1342,1472h7v8h-7zM1344,1473h7v8h-7zM1347,1474h7v8h-7zM1349,1474h7v8h-7zM1351,1475h7v8h-7zM1353,1476h7v8h-7zM1356,1477h7v8h-7zM1358,1477h7v8h-7zM1360,1478h7v8h-7zM1362,1479h7v8h-7zM1365,1479h7v8h-7zM1367,1480h7v8h-7zM1369,1481h7v8h-7zM1371,1482h7v8h-7zM1374,1482h7v8h-7zM1376,1483h7v8h-7zM1378,1483h7v8h-7zM1381,1484h7v8h-7zM1383,1485h7v8h-7zM1385,1485h7v8h-7zM1387,1486h7v8h-7zM1390,1487h7v8h-7zM1392,1487h7v8h-7zM1394,1488h7v8h-7zM1396,1488h7v8h-7zM1399,1489h7v8h-7zM1401,1490h7v8h-7zM1403,1490h7v8h-7zM1405,1491h7v8h-7zM1408,1491h7v8h-7zM1410,1492h7v8h-7zM1412,1492h7v8h-7zM1414,1493h7v8h-7zM1417,1493h7v8h-7zM1419,1494h7v8h-7zM1421,1494h7v8h-7zM1423,1495h7v8h-7zM1426,1495h7v8h-7zM1428,1496h7v8h-7zM1430,1496h7v8h-7zM1432,1497h7v8h-7zM1435,1497h7v8h-7zM1437,1498h7v8h-7zM1439,1498h7v8h-7zM1442,1499h7v8h-7zM1444,1499h7v8h-7zM1446,1500h7v8h-7zM1448,1500h7v8h-7zM1451,1500h7v8h-7zM1453,1501h7v8h-7zM1455,1501h7v8h-7zM1457,1502h7v8h-7zM1460,1502h7v8h-7zM1462,1502h7v8h-7zM1464,1503h7v8h-7zM1466,1503h7v8h-7zM1469,1503h7v8h-7zM1471,1504h7v8h-7zM1473,1504h7v8h-7zM1475,1505h7v8h-7zM1478,1505h7v8h-7zM1480,1505h7v8h-7zM1482,1506h7v8h-7zM1484,1506h7v8h-7zM1487,1506h7v8h-7zM1489,1507h7v8h-7zM1491,1507h7v8h-7zM1494,1507h7v8h-7zM1496,1507h7v8h-7zM1498,1508h7v8h-7zM1500,1508h7v8h-7zM1503,1508h7v8h-7zM1505,1509h7v8h-7zM1507,1509h7v8h-7zM1509,1509h7v8h-7zM1512,1509h7v8h-7zM1514,1510h7v8h-7zM1516,1510h7v8h-7zM1518,1510h7v8h-7zM1521,1510h7v8h-7zM1523,1511h7v8h-7zM1525,1511h7v8h-7zM1527,1511h7v8h-7zM1530,1511h7v8h-7zM1532,1511h7v8h-7zM1534,1512h7v8h-7zM1536,1512h7v8h-7zM1539,1512h7v8h-7zM1541,1512h7v8h-7zM1543,1512h7v8h-7zM1545,1513h7v8h-7zM1548,1513h7v8h-7zM1550,1513h7v8h-7zM1552,1513h7v8h-7zM1555,1513h7v8h-7zM1557,1514h7v8h-7zM1559,1514h7v8h-7zM1561,1514h7v8h-7zM1564,1514h7v8h-7zM1566,1514h7v8h-7zM1568,1514h7v8h-7zM1570,1514h7v8h-7zM1573,1515h7v8h-7zM1575,1515h7v8h-7zM1577,1515h7v8h-7zM1579,1515h7v8h-7zM1582,1515h7v8h-7zM1584,1515h7v8h-7zM1586,1515h7v8h-7zM1588,1515h7v8h-7zM1591,1515h7v8h-7zM1593,1516h7v8h-7zM1595,1516h7v8h-7zM1597,1516h7v8h-7zM1600,1516h7v8h-7zM1602,1516h7v8h-7zM1604,1516h7v8h-7zM1607,1516h7v8h-7zM1609,1516h7v8h-7zM1611,1516h7v8h-7zM1613,1516h7v8h-7zM1616,1516h7v8h-7zM1618,1516h7v8h-7zM1620,1517h7v8h-7zM1622,1517h7v8h-7zM1625,1517h7v8h-7zM1627,1517h7v8h-7zM1629,1517h7v8h-7zM1631,1517h7v8h-7zM1634,1517h7v8h-7zM1636,1517h7v8h-7zM1638,1517h7v8h-7zM1640,1517h7v8h-7zM1643,1517h7v8h-7zM1645,1517h7v8h-7zM1647,1517h7v8h-7zM1649,1517h7v8h-7zM1652,1517h7v8h-7zM1654,1517h7v8h-7zM1656,1517h7v8h-7zM1658,1517h7v8h-7zM1661,1517h7v8h-7zM1663,1517h7v8h-7zM1665,1517h7v8h-7zM1668,1517h7v8h-7zM1670,1517h7v8h-7zM1672,1517h7v8h-7zM1674,1517h7v8h-7zM1677,1517h7v8h-7zM1679,1517h7v8h-7zM1681,1517h7v8h-7zM1683,1517h7v8h-7z" fill="#ff0000" shape-rendering="crispEdges"/>
<path d="M566,1514h12v12h-12zM569,1511h12v12h-12zM571,1508h12v12h-12zM573,1506h12v12h-12zM575,1503h12v12h-12zM578,1500h12v12h-12zM580,1497h12v12h-12zM582,1495h12v12h-12zM584,1492h12v12h-12zM586,1489h12v12h-12zM589,1486h12v12h-12zM591,1483h12v12h-12zM593,1480h12v12h-12zM595,1477h12v12h-12zM597,1474h12v12h-12zM600,1471h12v12h-12zM602,1469h12v12h-12zM604,1466h12v12h-12zM606,1463h12v12h-12zM608,1460h12v12h-12zM611,1457h12v12h-12zM613,1454h12v12h-12zM615,1451h12v12h-12zM617,1448h12v12h-12zM619,1445h12v12h-12zM622,1442h12v12h-12zM624,1439h12v12h-12zM626,1435h12v12h-12zM628,1432h12v12h-12zM630,1429h12v12h-12zM633,1426h12v12h-12zM635,1423h12v12h-12zM637,1420h12v12h-12zM639,1417h12v12h-12zM641,1414h12v12h-12zM644,1411h12v12h-12zM646,1407h12v12h-12zM648,1404h12v12h-12zM650,1401h12v12h-12zM652,1398h12v12h-12zM655,1395h12v12h-12zM657,1391h12v12h-12zM659,1388h12v12h-12zM661,1385h12v12h-12zM663,1382h12v12h-12zM666,1378h12v12h-12zM668,1375h12v12h-12zM670,1372h12v12h-12zM672,1368h12v12h-12zM674,1365h12v12h-12zM677,1362h12v12h-12zM679,1358h12v12h-12zM681,1355h12v12h-12zM683,1352h12v12h-12zM685,1348h12v12h-12zM688,1345h12v12h-12zM690,1341h12v12h-12zM692,1338h12v12h-12zM694,1335h12v12h-12zM696,1331h12v12h-12zM699,1328h12v12h-12zM701,1324h12v12h-12zM703,1321h12v12h-12zM705,1317h12v12h-12zM707,1314h12v12h-12zM710,1310h12v12h-12zM712,1307h12v12h-12zM714,1303h12v12h-12zM716,1300h12v12h-12zM718,1296h12v12h-12zM721,1293h12v12h-12zM723,1289h12v12h-12zM725,1285h12v12h-12zM727,1282h12v12h-12zM729,1278h12v12h-12zM732,1275h12v12h-12zM734,1271h12v12h-12zM736,1267h12v12h-12zM738,1264h12v12h-12zM740,1260h12v12h-12zM743,1256h12v12h-12zM745,1253h12v12h-12zM747,1249h12v12h-12zM749,1245h12v12h-12zM751,1241h12v12h-12zM754,1238h12v12h-12zM756,1234h12v12h-12zM758,1230h12v12h-12zM760,1226h12v12h-12zM762,1223h12v12h-12zM765,1219h12v12h-12zM767,1215h12v12h-12zM769,1211h12v12h-12zM771,1207h12v12h-12zM773,1204h12v12h-12zM776,1200h12v12h-12zM778,1196h12v12h-12zM780,1192h12v12h-12zM782,1188h12v12h-12zM784,1184h12v12h-12zM787,1180h12v12h-12zM789,1176h12v12h-12zM791,1173h12v12h-12zM793,1169h12v12h-12zM795,1165h12v12h-12zM798,1161h12v12h-12zM800,1157h12v12h-12zM802,1153h12v12h-12zM804,1149h12v12h-12zM806,1145h12v12h-12zM809,1141h12v12h-12zM811,1137h12v12h-12zM813,1133h12v12h-12zM815,1129h12v12h-12zM817,1125h12v12h-12zM820,1121h12v12h-12zM822,1117h12v12h-12zM824,1112h12v12h-12zM826,1108h12v12h-12zM828,1104h12v12h-12zM831,1100h12v12h-12zM833,1096h12v12h-12zM835,1092h12v12h-12zM837,1088h12v12h-12zM839,1084h12v12h-12zM842,1080h12v12h-12zM844,1076h12v12h-12zM846,1071h12v12h-12zM848,1067h12v12h-12zM850,1063h12v12h-12zM853,1059h12v12h-12zM855,1055h12v12h-12zM857,1051h12v12h-12zM859,1047h12v12h-12zM861,1043h12v12h-12zM864,1039h12v12h-12zM866,1035h12v12h-12zM868,1031h12v12h-12zM870,1027h12v12h-12zM872,1023h12v12h-12zM875,1019h12v12h-12zM877,1016h12v12h-12zM879,1012h12v12h-12zM881,1008h12v12h-12zM883,1004h12v12h-12zM886,1000h12v12h-12zM888,997h12v12h-12zM890,993h12v12h-12zM892,990h12v12h-12zM894,986h12v12h-12zM897,983h12v12h-12zM899,979h12v12h-12zM901,976h12v12h-12zM903,972h12v12h-12zM905,969h12v12h-12zM908,966h12v12h-12zM910,963h12v12h-12zM912,960h12v12h-12zM914,957h12v12h-12zM916,954h12v12h-12zM919,951h12v12h-12zM921,948h12v12h-12zM923,945h12v12h-12zM925,942h12v12h-12zM927,940h12v12h-12zM930,937h12v12h-12zM932,934h12v12h-12zM934,932h12v12h-12zM936,930h12v12h-12zM938,927h12v12h-12zM941,925h12v12h-12zM943,923h12v12h-12zM945,921h12v12h-12zM947,919h12v12h-12zM949,917h12v12h-12zM952,915h12v12h-12zM954,914h12v12h-12zM956,912h12v12h-12zM958,911h12v12h-12zM960,909h12v12h-12zM963,908h12v12h-12zM965,907h12v12h-12zM967,906h12v12h-12zM969,904h12v12h-12zM971,903h12v12h-12zM974,903h12v12h-12zM976,902h12v12h-12zM978,901h12v12h-12zM980,900h12v12h-12zM982,900h12v12h-12zM985,899h12v12h-12zM987,899h12v12h-12zM989,899h12v12h-12zM991,899h12v12h-12zM993,898h12v12h-12zM996,898h12v12h-12zM998,898h12v12h-12zM1000,899h12v12h-12zM1002,899h12v12h-12zM1004,899h12v12h-12zM1007,900h12v12h-12zM1009,900h12v12h-12zM1011,901h12v12h-12zM1013,901h12v12h-12zM1015,902h12v12h-12zM1018,903h12v12h-12zM1020,904h12v12h-12zM1022,905h12v12h-12zM1024,906h12v12h-12zM1026,907h12v12h-12zM1029,909h12v12h-12zM1031,910h12v12h-12zM1033,912h12v12h-12zM1035,913h12v12h-12zM1037,915h12v12h-12zM1040,917h12v12h-12zM1042,919h12v12h-12zM1044,920h12v12h-12zM1046,923h12v12h-12zM1048,925h12v12h-12zM1051,927h12v12h-12zM1053,929h12v12h-12zM1055,932h12v12h-12zM1057,934h12v12h-12zM1059,937h12v12h-12zM1062,939h12v12h-12zM1064,942h12v12h-12zM1066,945h12v12h-12zM1068,947h12v12h-12zM1070,950h12v12h-12zM1073,953h12v12h-12zM1075,956h12v12h-12zM1077,959h12v12h-12zM1079,963h12v12h-12zM1081,966h12v12h-12zM1084,969h12v12h-12zM1086,972h12v12h-12zM1088,976h12v12h-12zM1090,979h12v12h-12zM1092,982h12v12h-12zM1095,986h12v12h-12zM1097,990h12v12h-12zM1099,993h12v12h-12zM1101,997h12v12h-12zM1103,1000h12v12h-12zM1106,1004h12v12h-12zM1108,1008h12v12h-12zM1110,1011h12v12h-12zM1112,1015h12v12h-12zM1114,1019h12v12h-12zM1117,1023h12v12h-12zM1119,1027h12v12h-12zM1121,1031h12v12h-12zM1123,1034h12v12h-12zM1125,1038h12v12h-12zM1128,1042h12v12h-12zM1130,1046h12v12h-12zM1132,1050h12v12h-12zM1134,1054h12v12h-12zM1136,1058h12v12h-12zM1139,1062h12v12h-12zM1141,1066h12v12h-12zM1143,1070h12v12h-12zM1145,1073h12v12h-12zM1147,1077h12v12h-12zM1150,1081h12v12h-12zM1152,1085h12v12h-12zM1154,1089h12v12h-12zM1156,1093h12v12h-12zM1158,1097h12v12h-12zM1161,1100h12v12h-12zM1163,1104h12v12h-12zM1165,1108h12v12h-12zM1167,1112h12v12h-12zM1169,1116h12v12h-12zM1172,1119h12v12h-12zM1174,1123h12v12h-12zM1176,1127h12v12h-12zM1178,1131h12v12h-12zM1180,1134h12v12h-12zM1183,1138h12v12h-12zM1185,1142h12v12h-12zM1187,1145h12v12h-12zM1189,1149h12v12h-12zM1191,1152h12v12h-12zM1194,1156h12v12h-12zM1196,1160h12v12h-12zM1198,1163h12v12h-12zM1200,1167h12v12h-12zM1202,1170h12v12h-12zM1205,1174h12v12h-12zM1207,1177h12v12h-12zM1209,1181h12v12h-12zM1211,1184h12v12h-12zM1213,1188h12v12h-12zM1216,1191h12v12h-12zM1218,1195h12v12h-12zM1220,1198h12v12h-12zM1222,1202h12v12h-12zM1224,1205h12v12h-12zM1227,1209h12v12h-12zM1229,1212h12v12h-12zM1231,1215h12v12h-12zM1233,1219h12v12h-12zM1235,1222h12v12h-12zM1238,1225h12v12h-12zM1240,1228h12v12h-12zM1242,1232h12v12h-12zM1244,1235h12v12h-12zM1246,1238h12v12h-12zM1249,1241h12v12h-12zM1251,1245h12v12h-12zM1253,1248h12v12h-12zM1255,1251h12v12h-12zM1257,1254h12v12h-12zM1260,1257h12v12h-12zM1262,1260h12v12h-12zM1264,1263h12v12h-12zM1266,1266h12v12h-12zM1268,1270h12v12h-12zM1271,1273h12v12h-12zM1273,1276h12v12h-12zM1275,1279h12v12h-12zM1277,1282h12v12h-12zM1279,1285h12v12h-12zM1282,1287h12v12h-12zM1284,1290h12v12h-12zM1286,1293h12v12h-12zM1288,1296h12v12h-12zM1290,1299h12v12h-12zM1293,1302h12v12h-12zM1295,1305h12v12h-12zM1297,1308h12v12h-12zM1299,1310h12v12h-12zM1301,1313h12v12h-12zM1304,1316h12v12h-12zM1306,1319h12v12h-12zM1308,1321h12v12h-12zM1310,1324h12v12h-12zM1312,1327h12v12h-12zM1315,1329h12v12h-12zM1317,1332h12v12h-12zM1319,1335h12v12h-12zM1321,1337h12v12h-12zM1323,1340h12v12h-12zM1326,1342h12v12h-12zM1328,1345h12v12h-12zM1330,1348h12v12h-12zM1332,1350h12v12h-12zM1334,1353h12v12h-12zM1337,1355h12v12h-12zM1339,1357h12v12h-12zM1341,1360h12v12h-12zM1343,1362h12v12h-12zM1345,1365h12v12h-12zM1348,1367h12v12h-12zM1350,1370h12v12h-12zM1352,1372h12v12h-12zM1354,1374h12v12h-12zM1356,1376h12v12h-12zM1359,1379h12v12h-12zM1361,1381h12v12h-12zM1363,1383h12v12h-12zM1365,1386h12v12h-12zM1367,1388h12v12h-12zM1370,1390h12v12h-12zM1372,1392h12v12h-12zM1374,1394h12v12h-12zM1376,1396h12v12h-12zM1378,1399h12v12h-12zM1381,1401h12v12h-12zM1383,1403h12v12h-12zM1385,1405h12v12h-12zM1387,1407h12v12h-12zM1389,1409h12v12h-12zM1392,1411h12v12h-12zM1394,1413h12v12h-12zM1396,1415h12v12h-12zM1398,1417h12v12h-12zM1400,1419h12v12h-12zM1403,1421h12v12h-12zM1405,1423h12v12h-12zM1407,1424h12v12h-12zM1409,1426h12v12h-12zM1411,1428h12v12h-12zM1414,1430h12v12h-12zM1416,1432h12v12h-12zM1418,1434h12v12h-12zM1420,1435h12v12h-12zM1422,1437h12v12h-12zM1425,1439h12v12h-12zM1427,1440h12v12h-12zM1429,1442h12v12h-12zM1431,1444h12v12h-12zM1433,1445h12v12h-12zM1436,1447h12v12h-12zM1438,1449h12v12h-12zM1440,1450h12v12h-12zM1442,1452h12v12h-12zM1444,1453h12v12h-12zM1447,1455h12v12h-12zM1449,1456h12v12h-12zM1451,1458h12v12h-12zM1453,1459h12v12h-12zM1455,1461h12v12h-12zM1458,1462h12v12h-12zM1460,1464h12v12h-12zM1462,1465h12v12h-12zM1464,1467h12v12h-12zM1466,1468h12v12h-12zM1469,1469h12v12h-12zM1471,1471h12v12h-12zM1473,1472h12v12h-12zM1475,1473h12v12h-12zM1477,1474h12v12h-12zM1480,1476h12v12h-12zM1482,1477h12v12h-12zM1484,1478h12v12h-12zM1486,1479h12v12h-12zM1488,1481h12v12h-12zM1491,1482h12v12h-12zM1493,1483h12v12h-12zM1495,1484h12v12h-12zM1497,1485h12v12h-12zM1499,1486h12v12h-12zM1502,1487h12v12h-12zM1504,1488h12v12h-12zM1506,1489h12v12h-12zM1508,1490h12v12h-12zM1510,1491h12v12h-12zM1513,1492h12v12h-12zM1515,1493h12v12h-12zM1517,1494h12v12h-12zM1519,1495h12v12h-12zM1521,1496h12v12h-12zM1524,1497h12v12h-12zM1526,1497h12v12h-12zM1528,1498h12v12h-12zM1530,1499h12v12h-12zM1532,1500h12v12h-12zM1535,1501h12v12h-12zM1537,1501h12v12h-12zM1539,1502h12v12h-12zM1541,1503h12v12h-12zM1543,1504h12v12h-12zM1546,1504h12v12h-12zM1548,1505h12v12h-12zM1550,1505h12v12h-12zM1552,1506h12v12h-12zM1554,1507h12v12h-12zM1557,1507h12v12h-12zM1559,1508h12v12h-12zM1561,1508h12v12h-12zM1563,1509h12v12h-12zM1565,1509h12v12h-12zM1568,1510h12v12h-12zM1570,1510h12v12h-12zM1572,1511h12v12h-12zM1574,1511h12v12h-12zM1576,1512h12v12h-12zM1579,1512h12v12h-12zM1581,1512h12v12h-12zM1583,1513h12v12h-12zM1585,1513h12v12h-12zM1587,1513h12v12h-12zM1590,1514h12v12h-12zM1592,1514h12v12h-12zM1594,1514h12v12h-12zM1596,1514h12v12h-12zM1598,1514h12v12h-12zM1601,1515h12v12h-12zM1603,1515h12v12h-12zM1605,1515h12v12h-12zM1607,1515h12v12h-12zM1609,1515h12v12h-12zM1612,1515h12v12h-12zM1614,1515h12v12h-12zM1616,1515h12v12h-12zM1618,1515h12v12h-12zM1620,1515h12v12h-12zM1623,1515h12v12h-12zM1625,1515h12v12h-12zM1627,1515h12v12h-12zM1629,1515h12v12h-12zM1631,1515h12v12h-12z" fill="#00ff00" shape-rendering="crispEdges"/>
<path d="M767,1514h12v12h-12zM771,1509h12v12h-12zM776,1504h12v12h-12zM780,1498h12v12h-12zM785,1492h12v12h-12zM789,1486h12v12h-12zM793,1479h12v12h-12zM798,1473h12v12h-12zM802,1466h12v12h-12zM807,1458h12v12h-12zM811,1451h12v12h-12zM815,1443h12v12h-12zM820,1435h12v12h-12zM824,1427h12v12h-12zM829,1419h12v12h-12zM833,1411h12v12h-12zM837,1403h12v12h-12zM842,1394h12v12h-12zM846,1386h12v12h-12zM851,1377h12v12h-12zM855,1369h12v12h-12zM859,1360h12v12h-12zM864,1351h12v12h-12zM868,1343h12v12h-12zM873,1334h12v12h-12zM877,1325h12v12h-12zM881,1317h12v12h-12zM886,1308h12v12h-12zM890,1300h12v12h-12zM895,1292h12v12h-12zM899,1283h12v12h-12zM903,1275h12v12h-12zM908,1268h12v12h-12zM912,1260h12v12h-12zM917,1252h12v12h-12zM921,1244h12v12h-12zM925,1236h12v12h-12zM930,1228h12v12h-12zM934,1220h12v12h-12zM939,1212h12v12h-12zM943,1203h12v12h-12zM947,1195h12v12h-12zM952,1186h12v12h-12zM956,1177h12v12h-12zM961,1168h12v12h-12zM965,1158h12v12h-12zM969,1148h12v12h-12zM974,1138h12v12h-12zM978,1128h12v12h-12zM983,1118h12v12h-12zM987,1107h12v12h-12zM991,1097h12v12h-12zM996,1086h12v12h-12zM1000,1076h12v12h-12zM1005,1065h12v12h-12zM1009,1055h12v12h-12zM1013,1044h12v12h-12zM1018,1034h12v12h-12zM1022,1023h12v12h-12zM1027,1013h12v12h-12zM1031,1003h12v12h-12zM1035,993h12v12h-12zM1040,983h12v12h-12zM1044,973h12v12h-12zM1049,964h12v12h-12zM1053,954h12v12h-12zM1057,944h12v12h-12zM1062,935h12v12h-12zM1066,925h12v12h-12zM1071,916h12v12h-12zM1075,906h12v12h-12zM1079,897h12v12h-12zM1084,888h12v12h-12zM1088,879h12v12h-12zM1093,870h12v12h-12zM1097,862h12v12h-12zM1101,854h12v12h-12zM1106,846h12v12h-12zM1110,838h12v12h-12zM1115,830h12v12h-12zM1119,823h12v12h-12zM1123,816h12v12h-12zM1128,810h12v12h-12zM1132,803h12v12h-12zM1137,797h12v12h-12zM1141,792h12v12h-12zM1145,787h12v12h-12zM1150,782h12v12h-12zM1154,777h12v12h-12zM1159,773h12v12h-12zM1163,769h12v12h-12zM1167,766h12v12h-12zM1172,763h12v12h-12zM1176,760h12v12h-12zM1181,757h12v12h-12zM1185,755h12v12h-12zM1189,753h12v12h-12zM1194,752h12v12h-12zM1198,751h12v12h-12zM1203,750h12v12h-12zM1207,750h12v12h-12zM1211,750h12v12h-12zM1214,750h12v12h-12zM1217,750h12v12h-12zM1220,751h12v12h-12zM1223,752h12v12h-12zM1226,753h12v12h-12zM1229,754h12v12h-12zM1232,755h12v12h-12zM1235,757h12v12h-12zM1238,758h12v12h-12zM1241,760h12v12h-12zM1244,762h12v12h-12zM1247,765h12v12h-12zM1250,767h12v12h-12zM1253,770h12v12h-12zM1256,773h12v12h-12zM1259,776h12v12h-12zM1262,779h12v12h-12zM1265,782h12v12h-12zM1268,786h12v12h-12zM1271,790h12v12h-12zM1274,793h12v12h-12zM1277,797h12v12h-12zM1280,802h12v12h-12zM1283,806h12v12h-12zM1286,810h12v12h-12zM1289,815h12v12h-12zM1292,819h12v12h-12zM1295,824h12v12h-12zM1298,828h12v12h-12zM1301,833h12v12h-12zM1304,838h12v12h-12zM1307,843h12v12h-12zM1310,848h12v12h-12zM1313,853h12v12h-12zM1316,858h12v12h-12zM1319,863h12v12h-12zM1322,869h12v12h-12zM1325,874h12v12h-12zM1328,879h12v12h-12zM1331,884h12v12h-12zM1334,890h12v12h-12zM1337,895h12v12h-12zM1340,900h12v12h-12zM1343,906h12v12h-12zM1346,911h12v12h-12zM1349,917h12v12h-12zM1352,922h12v12h-12zM1355,927h12v12h-12zM1358,933h12v12h-12zM1361,938h12v12h-12zM1364,944h12v12h-12zM1367,949h12v12h-12zM1370,955h12v12h-12zM1373,960h12v12h-12zM1376,966h12v12h-12zM1379,971h12v12h-12zM1382,977h12v12h-12zM1385,982h12v12h-12zM1388,988h12v12h-12zM1391,994h12v12h-12zM1394,999h12v12h-12zM1397,1005h12v12h-12zM1400,1010h12v12h-12zM1403,1016h12v12h-12zM1406,1022h12v12h-12zM1409,1027h12v12h-12zM1412,1033h12v12h-12zM1415,1038h12v12h-12zM1418,1044h12v12h-12zM1421,1049h12v12h-12zM1424,1055h12v12h-12zM1427,1061h12v12h-12zM1430,1066h12v12h-12zM1433,1072h12v12h-12zM1436,1077h12v12h-12zM1439,1083h12v12h-12zM1442,1088h12v12h-12zM1445,1094h12v12h-12zM1448,1099h12v12h-12zM1451,1105h12v12h-12zM1454,1110h12v12h-12zM1457,1116h12v12h-12zM1460,1121h12v12h-12zM1463,1127h12v12h-12zM1466,1132h12v12h-12zM1469,1138h12v12h-12zM1472,1143h12v12h-12zM1475,1148h12v12h-12zM1478,1154h12v12h-12zM1481,1159h12v12h-12zM1484,1164h12v12h-12zM1487,1169h12v12h-12zM1490,1175h12v12h-12zM1493,1180h12v12h-12zM1496,1185h12v12h-12zM1499,1190h12v12h-12zM1502,1195h12v12h-12zM1505,1200h12v12h-12zM1508,1206h12v12h-12zM1511,1211h12v12h-12zM1514,1216h12v12h-12zM1517,1221h12v12h-12zM1520,1226h12v12h-12zM1523,1230h12v12h-12zM1526,1235h12v12h-12zM1529,1240h12v12h-12zM1532,1245h12v12h-12zM1535,1250h12v12h-12zM1538,1254h12v12h-12zM1541,1259h12v12h-12zM1544,1264h12v12h-12zM1547,1268h12v12h-12zM1550,1273h12v12h-12zM1553,1278h12v12h-12zM1556,1282h12v12h-12zM1559,1287h12v12h-12zM1562,1291h12v12h-12zM1565,1295h12v12h-12zM1568,1300h12v12h-12zM1571,1304h12v12h-12zM1574,1308h12v12h-12zM1577,1313h12v12h-12zM1580,1317h12v12h-12zM1583,1321h12v12h-12zM1586,1325h12v12h-12zM1589,1329h12v12h-12zM1592,1334h12v12h-12zM1595,1338h12v12h-12zM1598,1342h12v12h-12zM1601,1345h12v12h-12zM1604,1349h12v12h-12zM1607,1353h12v12h-12zM1610,1357h12v12h-12zM1613,1361h12v12h-12zM1616,1365h12v12h-12zM1619,1368h12v12h-12zM1622,1372h12v12h-12zM1625,1376h12v12h-12zM1628,1379h12v12h-12zM1631,1383h12v12h-12zM1634,1386h12v12h-12zM1637,1390h12v12h-12zM1640,1393h12v12h-12zM1643,1396h12v12h-12zM1646,1400h12v12h-12zM1649,1403h12v12h-12zM1652,1406h12v12h-12zM1655,1409h12v12h-12zM1658,1413h12v12h-12zM1661,1416h12v12h-12zM1664,1419h12v12h-12zM1667,1422h12v12h-12zM1670,1424h12v12h-12zM1673,1427h12v12h-12zM1676,1430h12v12h-12zM1679,1433h12v12h-12zM1682,1436h12v12h-12zM1685,1438h12v12h-12zM1688,1441h12v12h-12zM1691,1443h12v12h-12zM1694,1446h12v12h-12zM1697,1448h12v12h-12zM1700,1451h12v12h-12zM1703,1453h12v12h-12zM1706,1455h12v12h-12zM1709,1457h12v12h-12zM1712,1460h12v12h-12zM1715,1462h12v12h-12zM1718,1464h12v12h-12zM1721,1466h12v12h-12zM1724,1468h12v12h-12zM1727,1469h12v12h-12zM1730,1471h12v12h-12zM1733,1473h12v12h-12zM1736,1475h12v12h-12zM1739,1476h12v12h-12zM1742,1478h12v12h-12zM1745,1479h12v12h-12zM1748,1481h12v12h-12zM1751,1482h12v12h-12zM1754,1484h12v12h-12zM1757,1485h12v12h-12zM1760,1486h12v12h-12zM1763,1488h12v12h-12zM1766,1489h12v12h-12zM1769,1490h12v12h-12zM1772,1491h12v12h-12zM1775,1492h12v12h-12zM1778,1493h12v12h-12zM1781,1494h12v12h-12zM1784,1495h12v12h-12zM1787,1496h12v12h-12zM1790,1497h12v12h-12zM1793,1498h12v12h-12zM1796,1499h12v12h-12zM1799,1500h12v12h-12zM1802,1501h12v12h-12zM1805,1501h12v12h-12zM1808,1502h12v12h-12zM1811,1503h12v12h-12zM1814,1503h12v12h-12zM1817,1504h12v12h-12zM1820,1505h12v12h-12zM1823,1505h12v12h-12zM1826,1506h12v12h-12zM1829,1506h12v12h-12zM1832,1507h12v12h-12zM1835,1507h12v12h-12zM1838,1508h12v12h-12zM1841,1508h12v12h-12zM1844,1508h12v12h-12zM1847,1509h12v12h-12zM1850,1509h12v12h-12zM1853,1510h12v12h-12zM1856,1510h12v12h-12zM1859,1510h12v12h-12zM1862,1511h12v12h-12zM1865,1511h12v12h-12zM1868,1511h12v12h-12zM1871,1511h12v12h-12zM1874,1512h12v12h-12zM1877,1512h12v12h-12zM1880,1512h12v12h-12zM1883,1512h12v12h-12zM1886,1512h12v12h-12zM1889,1513h12v12h-12zM1892,1513h12v12h-12zM1895,1513h12v12h-12zM1898,1513h12v12h-12zM1901,1513h12v12h-12zM1904,1514h12v12h-12zM1907,1514h12v12h-12zM1910,1514h12v12h-12zM1913,1514h12v12h-12zM1916,1514h12v12h-12zM1919,1515h12v12h-12zM1922,1515h12v12h-12zM1925,1515h12v12h-12z" fill="#0000ff" shape-rendering="crispEdges"/>
<path d="M900,1510h18v18h-18zM906,1505h18v18h-18zM912,1499h18v18h-18zM919,1492h18v18h-18zM925,1485h18v18h-18zM931,1477h18v18h-18zM938,1469h18v18h-18zM944,1460h18v18h-18zM950,1450h18v18h-18zM957,1440h18v18h-18zM963,1430h18v18h-18zM969,1419h18v18h-18zM975,1407h18v18h-18zM982,1395h18v18h-18zM988,1383h18v18h-18zM994,1370h18v18h-18zM1001,1356h18v18h-18zM1007,1342h18v18h-18zM1013,1328h18v18h-18zM1020,1313h18v18h-18zM1026,1297h18v18h-18zM1032,1282h18v18h-18zM1038,1266h18v18h-18zM1045,1249h18v18h-18zM1051,1232h18v18h-18zM1059,1210h18v18h-18zM1066,1190h18v18h-18zM1072,1173h18v18h-18zM1079,1152h18v18h-18zM1085,1134h18v18h-18zM1092,1113h18v18h-18zM1098,1094h18v18h-18zM1105,1072h18v18h-18zM1112,1049h18v18h-18zM1118,1029h18v18h-18zM1125,1006h18v18h-18zM1132,982h18v18h-18zM1138,962h18v18h-18zM1145,937h18v18h-18zM1152,913h18v18h-18zM1158,891h18v18h-18zM1165,866h18v18h-18zM1172,841h18v18h-18zM1179,816h18v18h-18zM1186,790h18v18h-18zM1192,767h18v18h-18zM1199,742h18v18h-18zM1206,716h18v18h-18zM1213,691h18v18h-18zM1220,665h18v18h-18zM1227,640h18v18h-18zM1234,615h18v18h-18zM1241,591h18v18h-18zM1248,567h18v18h-18zM1255,544h18v18h-18zM1261,525h18v18h-18zM1268,504h18v18h-18zM1275,484h18v18h-18zM1282,465h18v18h-18zM1289,446h18v18h-18zM1296,430h18v18h-18zM1303,414h18v18h-18zM1309,402h18v18h-18zM1316,390h18v18h-18zM1323,379h18v18h-18zM1329,371h18v18h-18zM1336,364h18v18h-18zM1342,359h18v18h-18zM1348,356h18v18h-18zM1354,355h18v18h-18zM1360,355h18v18h-18zM1366,357h18v18h-18zM1372,361h18v18h-18zM1377,365h18v18h-18zM1383,372h18v18h-18zM1388,380h18v18h-18zM1393,388h18v18h-18zM1398,398h18v18h-18zM1402,407h18v18h-18zM1407,419h18v18h-18zM1411,430h18v18h-18zM1415,441h18v18h-18zM1419,453h18v18h-18zM1423,466h18v18h-18zM1427,479h18v18h-18zM1430,489h18v18h-18zM1434,501h18v18h-18zM1437,514h18v18h-18zM1440,526h18v18h-18zM1444,539h18v18h-18zM1448,552h18v18h-18zM1451,564h18v18h-18zM1454,577h18v18h-18zM1458,589h18v18h-18zM1462,601h18v18h-18zM1465,613h18v18h-18zM1468,625h18v18h-18zM1472,637h18v18h-18zM1476,648h18v18h-18zM1479,660h18v18h-18zM1482,671h18v18h-18zM1486,683h18v18h-18zM1490,694h18v18h-18zM1493,705h18v18h-18zM1496,716h18v18h-18zM1500,726h18v18h-18zM1504,737h18v18h-18zM1507,748h18v18h-18zM1510,758h18v18h-18zM1514,769h18v18h-18zM1518,779h18v18h-18zM1521,789h18v18h-18zM1524,799h18v18h-18zM1528,809h18v18h-18zM1532,819h18v18h-18zM1535,828h18v18h-18zM1538,838h18v18h-18zM1542,848h18v18h-18zM1546,857h18v18h-18zM1549,867h18v18h-18zM1552,876h18v18h-18zM1556,885h18v18h-18zM1560,894h18v18h-18zM1563,903h18v18h-18zM1566,912h18v18h-18zM1570,921h18v18h-18zM1574,930h18v18h-18zM1577,939h18v18h-18zM1580,947h18v18h-18zM1584,956h18v18h-18zM1588,965h18v18h-18zM1591,973h18v18h-18zM1594,982h18v18h-18zM1598,990h18v18h-18zM1602,998h18v18h-18zM1605,1007h18v18h-18zM1608,1015h18v18h-18zM1612,1023h18v18h-18zM1616,1031h18v18h-18zM1619,1039h18v18h-18zM1622,1047h18v18h-18zM1626,1055h18v18h-18zM1630,1063h18v18h-18zM1633,1070h18v18h-18zM1636,1078h18v18h-18zM1640,1086h18v18h-18zM1644,1093h18v18h-18zM1647,1101h18v18h-18zM1650,1108h18v18h-18zM1654,1116h18v18h-18zM1658,1123h18v18h-18zM1661,1130h18v18h-18zM1664,1138h18v18h-18zM1668,1145h18v18h-18zM1672,1152h18v18h-18zM1675,1159h18v18h-18zM1678,1166h18v18h-18zM1682,1173h18v18h-18zM1686,1179h18v18h-18zM1689,1186h18v18h-18zM1692,1193h18v18h-18zM1696,1200h18v18h-18zM1700,1206h18v18h-18zM1703,1213h18v18h-18zM1706,1219h18v18h-18zM1710,1226h18v18h-18zM1714,1232h18v18h-18zM1717,1238h18v18h-18zM1720,1244h18v18h-18zM1724,1250h18v18h-18zM1728,1256h18v18h-18zM1731,1262h18v18h-18zM1734,1268h18v18h-18zM1738,1274h18v18h-18zM1742,1280h18v18h-18zM1745,1286h18v18h-18zM1748,1291h18v18h-18zM1752,1297h18v18h-18zM1756,1303h18v18h-18zM1759,1308h18v18h-18zM1762,1313h18v18h-18zM1766,1319h18v18h-18zM1770,1324h18v18h-18zM1773,1329h18v18h-18zM1776,1334h18v18h-18zM1780,1339h18v18h-18zM1784,1344h18v18h-18zM1787,1349h18v18h-18zM1790,1354h18v18h-18zM1794,1359h18v18h-18zM1798,1364h18v18h-18zM1801,1368h18v18h-18zM1804,1373h18v18h-18zM1808,1377h18v18h-18zM1812,1382h18v18h-18zM1815,1386h18v18h-18zM1818,1390h18v18h-18zM1822,1395h18v18h-18zM1826,1399h18v18h-18zM1829,1403h18v18h-18zM1832,1407h18v18h-18zM1836,1411h18v18h-18zM1840,1415h18v18h-18zM1843,1418h18v18h-18zM1846,1422h18v18h-18zM1850,1426h18v18h-18zM1854,1429h18v18h-18zM1857,1433h18v18h-18zM1860,1436h18v18h-18zM1864,1440h18v18h-18zM1868,1443h18v18h-18zM1871,1446h18v18h-18zM1874,1449h18v18h-18zM1878,1452h18v18h-18zM1882,1455h18v18h-18zM1885,1458h18v18h-18zM1888,1461h18v18h-18zM1892,1464h18v18h-18zM1896,1467h18v18h-18zM1899,1469h18v18h-18zM1902,1472h18v18h-18zM1906,1474h18v18h-18zM1910,1477h18v18h-18zM1913,1479h18v18h-18zM1916,1481h18v18h-18zM1920,1484h18v18h-18zM1924,1486h18v18h-18zM1927,1488h18v18h-18zM1930,1490h18v18h-18zM1934,1492h18v18h-18zM1938,1493h18v18h-18zM1941,1495h18v18h-18zM1944,1497h18v18h-18zM1948,1498h18v18h-18zM1952,1500h18v18h-18zM1955,1501h18v18h-18zM1958,1503h18v18h-18zM1962,1504h18v18h-18zM1966,1505h18v18h-18zM1969,1506h18v18h-18zM1972,1507h18v18h-18zM1976,1508h18v18h-18zM1980,1509h18v18h-18zM1983,1510h18v18h-18zM1986,1511h18v18h-18zM1990,1511h18v18h-18zM1994,1512h18v18h-18zM1997,1512h18v18h-18zM2000,1513h18v18h-18zM2004,1513h18v18h-18zM2008,1513h18v18h-18zM2011,1514h18v18h-18zM2014,1514h18v18h-18zM2018,1514h18v18h-18zM2022,1514h18v18h-18zM2025,1513h18v18h-18zM2028,1513h18v18h-18zM2032,1513h18v18h-18zM2036,1513h18v18h-18z" fill="#00ffff" shape-rendering="crispEdges"/>
</g>
<g font-family="'Liberation Serif',serif" font-size="60" fill="#000">
<text transform="translate(182,1540.5) scale(1,1.025)" text-anchor="end">0.0</text>
<text transform="translate(182,1356.0) scale(1,1.025)" text-anchor="end">0.1</text>
<text transform="translate(182,1171.6) scale(1,1.025)" text-anchor="end">0.2</text>
<text transform="translate(182,987.1) scale(1,1.025)" text-anchor="end">0.3</text>
<text transform="translate(182,802.7) scale(1,1.025)" text-anchor="end">0.4</text>
<text transform="translate(182,618.2) scale(1,1.025)" text-anchor="end">0.5</text>
<text transform="translate(182,433.8) scale(1,1.025)" text-anchor="end">0.6</text>
<text transform="translate(182,249.3) scale(1,1.025)" text-anchor="end">0.7</text>
<text transform="translate(182,64.9) scale(1,1.025)" text-anchor="end">0.8</text>
<text transform="translate(213.0,1597.1) scale(1,1.025)" text-anchor="middle">310</text>
<text transform="translate(527.7,1597.1) scale(1,1.025)" text-anchor="middle">320</text>
<text transform="translate(842.3,1597.1) scale(1,1.025)" text-anchor="middle">330</text>
<text transform="translate(1157.0,1597.1) scale(1,1.025)" text-anchor="middle">340</text>
<text transform="translate(1471.7,1597.1) scale(1,1.025)" text-anchor="middle">350</text>
<text transform="translate(1786.3,1597.1) scale(1,1.025)" text-anchor="middle">360</text>
<text transform="translate(2101.0,1597.1) scale(1,1.025)" text-anchor="middle">370</text>
</g>
<text font-family="'Liberation Serif',serif" font-size="73" x="1157" y="1688.4" text-anchor="middle">Temperature (K)</text>
<text font-family="'Liberation Serif',serif" font-size="73" transform="translate(79,785.5) rotate(-90)" text-anchor="middle">d<tspan font-style="italic">α</tspan>/d<tspan font-style="italic">t</tspan></text>
<g font-family="'Liberation Serif',serif" font-size="63" fill="#000">
<text transform="translate(1830.6,135.2) scale(1,1.013)">1K/min</text>
<text transform="translate(1830.6,212.2) scale(1,1.013)">3K/min</text>
<text transform="translate(1830.6,289.1) scale(1,1.013)">5K/min</text>
<text transform="translate(1830.6,365.4) scale(1,1.013)">7K/min</text>
<text transform="translate(1830.6,442.3) scale(1,1.013)">9K/min</text>
</g>
<g fill="#b23aff"><rect x="1669" y="113" width="20" height="4" rx="1.8"/><rect x="1703" y="113" width="20" height="4" rx="1.8"/><rect x="1736" y="113" width="6" height="4" rx="1.8"/><rect x="1748" y="113" width="14" height="4" rx="1.8"/><rect x="1776" y="113" width="20" height="4" rx="1.8"/><rect x="1809" y="113" width="5" height="4" rx="1.8"/><rect x="1742" y="111" width="7" height="8" shape-rendering="crispEdges"/></g>
<g fill="#ff0000"><rect x="1669" y="189" width="8" height="5" rx="1.8"/><rect x="1689" y="189" width="8" height="5" rx="1.8"/><rect x="1710" y="189" width="8" height="5" rx="1.8"/><rect x="1730" y="189" width="8" height="5" rx="1.8"/><rect x="1747" y="189" width="3.5" height="5" rx="1.8"/><rect x="1762" y="189" width="8" height="5" rx="1.8"/><rect x="1782" y="189" width="9" height="5" rx="1.8"/><rect x="1803" y="189" width="8" height="5" rx="1.8"/><rect x="1742" y="188" width="7" height="8" shape-rendering="crispEdges"/></g>
<g fill="#00ff00"><rect x="1669" y="266" width="8" height="4" rx="1.8"/><rect x="1689" y="266" width="8" height="4" rx="1.8"/><rect x="1710" y="266" width="8" height="4" rx="1.8"/><rect x="1730" y="266" width="8" height="4" rx="1.8"/><rect x="1749" y="266" width="4.5" height="4" rx="1.8"/><rect x="1765" y="266" width="8" height="4" rx="1.8"/><rect x="1785" y="266" width="9" height="4" rx="1.8"/><rect x="1806" y="266" width="8" height="4" rx="1.8"/><rect x="1740" y="263" width="11" height="11" shape-rendering="crispEdges"/></g>
<g fill="#0000ff"><rect x="1669" y="342" width="8" height="5" rx="1.8"/><rect x="1689" y="342" width="8" height="5" rx="1.8"/><rect x="1710" y="342" width="8" height="5" rx="1.8"/><rect x="1730" y="342" width="8" height="5" rx="1.8"/><rect x="1749" y="342" width="4.5" height="5" rx="1.8"/><rect x="1765" y="342" width="8" height="5" rx="1.8"/><rect x="1785" y="342" width="9" height="5" rx="1.8"/><rect x="1806" y="342" width="8" height="5" rx="1.8"/><rect x="1740" y="340" width="11" height="11" shape-rendering="crispEdges"/></g>
<g fill="#00ffff"><rect x="1668" y="417" width="12" height="8" rx="1.8"/><rect x="1708" y="417" width="12" height="8" rx="1.8"/><rect x="1752" y="417" width="9" height="8" rx="1.8"/><rect x="1789" y="417" width="12" height="8" rx="1.8"/><rect x="1737" y="413" width="18" height="18" shape-rendering="crispEdges"/><rect x="1672.0" y="420.5" width="4" height="1" fill="#fff"/><rect x="1712.0" y="420.5" width="4" height="1" fill="#fff"/><rect x="1793.0" y="420.5" width="4" height="1" fill="#fff"/></g>
</svg>
</body></html>
